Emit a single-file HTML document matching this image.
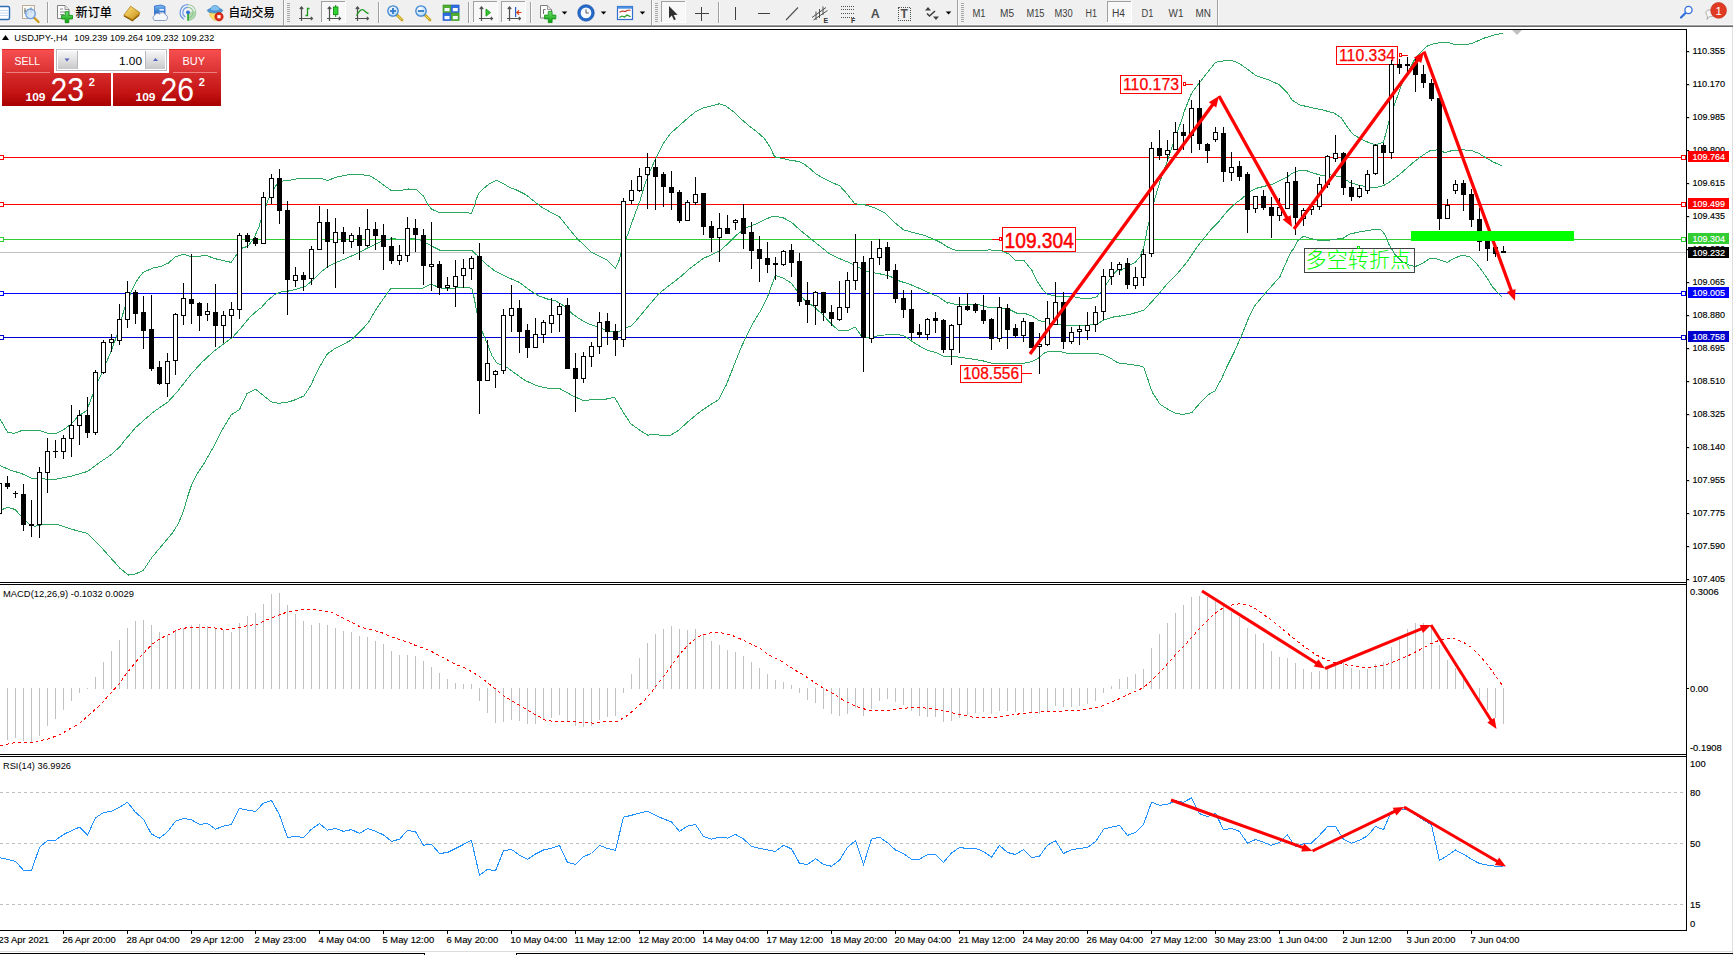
<!DOCTYPE html>
<html><head><meta charset="utf-8"><title>USDJPY-,H4</title>
<style>
html,body{margin:0;padding:0;background:#fff;}
body{width:1733px;height:955px;overflow:hidden;position:relative;font-family:"Liberation Sans","Noto Sans CJK SC",sans-serif;}
#tb{position:absolute;left:0;top:0;width:1733px;height:24px;background:#f0f0f0;}
#tbl1{position:absolute;left:0;top:24px;width:1733px;height:1px;background:#f8f8f8;}
#tbl2{position:absolute;left:0;top:25px;width:1733px;height:1px;background:#a0a0a0;}
#tbl3{position:absolute;left:0;top:26px;width:1733px;height:1px;background:#696969;}
svg{position:absolute;left:0;top:0;}
text{font-family:"Liberation Sans","Noto Sans CJK SC",sans-serif;}
.ax{font-size:9.4px;fill:#000;stroke:#000;stroke-width:0.15px;}
.tf{font-size:9.5px;fill:#333;}
.cn{font-family:"Liberation Sans","Noto Sans CJK SC",sans-serif;font-size:11px;fill:#000;}
</style></head><body>
<div id="tb"></div><div id="tbl1"></div><div id="tbl2"></div><div id="tbl3"></div>

<svg width="1733" height="955" viewBox="0 0 1733 955">
<defs>
<linearGradient id="gGreen" x1="0" y1="0" x2="0" y2="1"><stop offset="0" stop-color="#6fe26f"/><stop offset="1" stop-color="#0a9a0a"/></linearGradient>
<linearGradient id="gGold" x1="0" y1="0" x2="1" y2="1"><stop offset="0" stop-color="#ffe680"/><stop offset="1" stop-color="#c58a10"/></linearGradient>
<linearGradient id="gBlue" x1="0" y1="0" x2="0" y2="1"><stop offset="0" stop-color="#7db9f0"/><stop offset="1" stop-color="#1d5fc0"/></linearGradient>
<radialGradient id="gLens" cx="0.4" cy="0.35" r="0.7"><stop offset="0" stop-color="#ffffff"/><stop offset="1" stop-color="#a9d3f5"/></radialGradient>
<linearGradient id="gRed" x1="0" y1="0" x2="0" y2="1"><stop offset="0" stop-color="#f25a5a"/><stop offset="0.5" stop-color="#d42020"/><stop offset="1" stop-color="#b00000"/></linearGradient>
</defs>
<rect x="-6" y="6.5" width="15.5" height="13" rx="1.5" fill="#fff" stroke="#2f6fb7" stroke-width="1.4"/>
<rect x="0" y="10" width="8" height="1" fill="#c5d9f1"/>
<rect x="0" y="12.5" width="8" height="1" fill="#c5d9f1"/>
<rect x="0" y="15" width="8" height="1" fill="#c5d9f1"/>
<rect x="22.5" y="5.5" width="12" height="13" fill="#fbfbf6" stroke="#b8ad98" stroke-width="1"/>
<path d="M25 8 V14 M28 9 V15 M31 7.5 V13 M24 11 H26 M30 10 H32.5" stroke="#707070" stroke-width="1" fill="none"/>
<line x1="34" y1="17.5" x2="38.5" y2="22" stroke="#c99a1c" stroke-width="2.4" stroke-linecap="round"/>
<circle cx="30.5" cy="13.8" r="4.8" fill="#cfe3f7" fill-opacity="0.8" stroke="#6f9fe0" stroke-width="1.3"/>
<rect x="47" y="2" width="1" height="21" fill="#a0a0a0" shape-rendering="crispEdges"/>
<rect x="48" y="2" width="1" height="21" fill="#fbfbfb" shape-rendering="crispEdges"/>
<path d="M57.5 5.5 H65.0 L69.0 9.5 V18.5 H57.5 Z" fill="#fdfdfd" stroke="#808080" stroke-width="1"/>
<path d="M65.0 5.5 V9.5 H69.0" fill="#e8e8e8" stroke="#808080" stroke-width="0.8"/>
<path d="M60 9 H63 M60 12 H66 M60 14.5 H64" stroke="#909090" stroke-width="1"/>
<path d="M65.2 11.7 H68.8 V15.399999999999999 H72.5 V19.0 H68.8 V22.7 H65.2 V19.0 H61.5 V15.399999999999999 H65.2 Z" fill="url(#gGreen)" stroke="#0c8c0c" stroke-width="0.8"/>
<text x="75.5" y="16.6" style="font-family:'Liberation Sans','Noto Sans CJK SC',sans-serif;font-size:12px;font-weight:500;fill:#000" textLength="36.5" lengthAdjust="spacingAndGlyphs">新订单</text>
<path d="M123.8 15.2 L130.6 6.2 L139.8 12.6 L139 15.5 L132.4 21 Z" fill="url(#gGold)" stroke="#a8740c" stroke-width="0.7"/>
<path d="M123.8 15.2 L132.2 19 L139.6 12.8" fill="none" stroke="#c8901c" stroke-width="0.8"/>
<path d="M124 16 L132.4 20.6 L139 15" fill="none" stroke="#8a5a08" stroke-width="1.1"/>
<path d="M154.5 6 L161 5 L165 6.5 V15 H154.5 Z" fill="url(#gBlue)" stroke="#2a6ccc" stroke-width="0.8"/>
<rect x="159.5" y="9" width="4.5" height="1.6" fill="#e8f2ff"/><rect x="159.5" y="12" width="4.5" height="1.2" fill="#cfe2fb"/>
<path d="M155 20.5 H165.5 A3 3 0 0 0 165.5 14.8 A3.4 3.4 0 0 0 159.5 14 A3 3 0 0 0 154.6 15.4 A2.7 2.7 0 0 0 155 20.5 Z" fill="#f4f7fc" stroke="#8a9cc4" stroke-width="1"/>
<path d="M188 12.5 L188 20.6 A8 8 0 0 0 195.8 10.8 Z" fill="#7fc87f" fill-opacity="0.55"/>
<path d="M188 4.7 A7.8 7.8 0 0 1 188 20.3" fill="none" stroke="#9fcc9f" stroke-width="1.1"/>
<path d="M188 7.4 A5.1 5.1 0 0 1 188 17.6" fill="none" stroke="#8fc48f" stroke-width="1.1"/>
<path d="M188 4.7 A7.8 7.8 0 0 0 184 19.2" fill="none" stroke="#6f9ae6" stroke-width="1.3"/>
<path d="M188 7.4 A5.1 5.1 0 0 0 185.4 16.9" fill="none" stroke="#6f9ae6" stroke-width="1.2"/>
<rect x="187.3" y="12.5" width="1.5" height="8.2" fill="#1da01d"/><circle cx="188" cy="12.3" r="1.9" fill="#2f6fd8"/>
<path d="M209.5 11.5 L221 11.5 L220 15.5 L214.8 20.8 L210.2 16.5 Z" fill="#ffe169" stroke="#d8b030" stroke-width="0.6"/>
<ellipse cx="215" cy="10.6" rx="7.7" ry="2.5" fill="#4f98d4" stroke="#3578b8" stroke-width="0.6"/>
<path d="M210.3 10.2 C210.3 3.8 219.8 3.8 219.8 10.2 C217 11.3 213 11.3 210.3 10.2 Z" fill="#7fc0ee" stroke="#3d83c0" stroke-width="0.6"/>
<circle cx="219" cy="16.7" r="4.2" fill="#e02a18" stroke="#b01808" stroke-width="0.6"/><rect x="217.4" y="15.1" width="3.2" height="3.2" fill="#fff"/>
<text x="228.5" y="16.6" style="font-family:'Liberation Sans','Noto Sans CJK SC',sans-serif;font-size:12px;font-weight:500;fill:#000" textLength="46.5" lengthAdjust="spacingAndGlyphs">自动交易</text>
<rect x="283" y="0" width="1" height="25" fill="#a0a0a0" shape-rendering="crispEdges"/>
<rect x="284" y="0" width="1" height="25" fill="#fbfbfb" shape-rendering="crispEdges"/>
<rect x="287" y="3" width="3" height="1" fill="#a8a8a8" shape-rendering="crispEdges"/>
<rect x="287" y="5" width="3" height="1" fill="#a8a8a8" shape-rendering="crispEdges"/>
<rect x="287" y="7" width="3" height="1" fill="#a8a8a8" shape-rendering="crispEdges"/>
<rect x="287" y="9" width="3" height="1" fill="#a8a8a8" shape-rendering="crispEdges"/>
<rect x="287" y="11" width="3" height="1" fill="#a8a8a8" shape-rendering="crispEdges"/>
<rect x="287" y="13" width="3" height="1" fill="#a8a8a8" shape-rendering="crispEdges"/>
<rect x="287" y="15" width="3" height="1" fill="#a8a8a8" shape-rendering="crispEdges"/>
<rect x="287" y="17" width="3" height="1" fill="#a8a8a8" shape-rendering="crispEdges"/>
<rect x="287" y="19" width="3" height="1" fill="#a8a8a8" shape-rendering="crispEdges"/>
<rect x="287" y="21" width="3" height="1" fill="#a8a8a8" shape-rendering="crispEdges"/>
<g stroke="#505050" stroke-width="1.2" fill="none"><path d="M301.5 7 V21 M299 18.5 H312.5 M299.8 9 L301.5 7 L303.2 9 M310.8 16.8 L312.5 18.5 L310.8 20.2"/></g>
<path d="M309.5 8.5 H307.5 V15.5 H305.5" stroke="#1e9a1e" stroke-width="1.3" fill="none"/>
<rect x="321" y="1" width="25" height="22" fill="#f8f8f8" shape-rendering="crispEdges"/>
<rect x="321" y="1" width="25" height="1" fill="#a0a0a0" shape-rendering="crispEdges"/>
<rect x="321" y="1" width="1" height="22" fill="#a0a0a0" shape-rendering="crispEdges"/>
<rect x="345" y="1" width="1" height="22" fill="#ffffff" shape-rendering="crispEdges"/>
<rect x="321" y="22" width="25" height="1" fill="#ffffff" shape-rendering="crispEdges"/>
<g stroke="#505050" stroke-width="1.2" fill="none"><path d="M329.5 7 V21 M327 18.5 H340.5 M327.8 9 L329.5 7 L331.2 9 M338.8 16.8 L340.5 18.5 L338.8 20.2"/></g>
<rect x="335.2" y="5" width="1" height="12" fill="#0f7f0f"/><rect x="333.5" y="7" width="4.4" height="7.6" fill="#34d234" stroke="#0f8f0f" stroke-width="0.9"/>
<g stroke="#505050" stroke-width="1.2" fill="none"><path d="M357.5 7 V21 M355 18.5 H368.5 M355.8 9 L357.5 7 L359.2 9 M366.8 16.8 L368.5 18.5 L366.8 20.2"/></g>
<path d="M356.5 15.5 C359 11 361.5 8.5 363.5 10 C365.5 11.5 366.5 13 368.5 13.5" stroke="#1e9a1e" stroke-width="1.3" fill="none"/>
<rect x="378" y="2" width="1" height="21" fill="#a0a0a0" shape-rendering="crispEdges"/>
<rect x="379" y="2" width="1" height="21" fill="#fbfbfb" shape-rendering="crispEdges"/>
<line x1="397" y1="15" x2="402" y2="20" stroke="#c9a21c" stroke-width="2.8" stroke-linecap="round"/>
<line x1="397.5" y1="15.5" x2="401.6" y2="19.6" stroke="#f2da6a" stroke-width="1"/>
<circle cx="393" cy="11" r="5.2" fill="url(#gLens)" stroke="#3f86d0" stroke-width="1.3"/>
<rect x="390" y="10.1" width="6" height="1.8" fill="#2f78c8"/>
<rect x="392.1" y="8" width="1.8" height="6" fill="#2f78c8"/>
<line x1="425" y1="15" x2="430" y2="20" stroke="#c9a21c" stroke-width="2.8" stroke-linecap="round"/>
<line x1="425.5" y1="15.5" x2="429.6" y2="19.6" stroke="#f2da6a" stroke-width="1"/>
<circle cx="421" cy="11" r="5.2" fill="url(#gLens)" stroke="#3f86d0" stroke-width="1.3"/>
<rect x="418" y="10.1" width="6" height="1.8" fill="#2f78c8"/>
<rect x="443" y="5" width="7.8" height="7.5" fill="#4fae2f" stroke="#2f8f1f" stroke-width="0.6"/>
<rect x="444.5" y="8" width="5" height="3.2" fill="#f4f8ff"/>
<rect x="451.3" y="5" width="7.8" height="7.5" fill="#2f6fe0" stroke="#1d4fc0" stroke-width="0.6"/>
<rect x="452.8" y="8" width="5" height="3.2" fill="#f4f8ff"/>
<rect x="443" y="13" width="7.8" height="7.5" fill="#2f6fe0" stroke="#1d4fc0" stroke-width="0.6"/>
<rect x="444.5" y="16" width="5" height="3.2" fill="#f4f8ff"/>
<rect x="451.3" y="13" width="7.8" height="7.5" fill="#4fae2f" stroke="#2f8f1f" stroke-width="0.6"/>
<rect x="452.8" y="16" width="5" height="3.2" fill="#f4f8ff"/>
<rect x="468" y="2" width="1" height="21" fill="#a0a0a0" shape-rendering="crispEdges"/>
<rect x="469" y="2" width="1" height="21" fill="#fbfbfb" shape-rendering="crispEdges"/>
<rect x="473" y="1" width="25" height="22" fill="#f8f8f8" shape-rendering="crispEdges"/>
<rect x="473" y="1" width="25" height="1" fill="#a0a0a0" shape-rendering="crispEdges"/>
<rect x="473" y="1" width="1" height="22" fill="#a0a0a0" shape-rendering="crispEdges"/>
<rect x="497" y="1" width="1" height="22" fill="#ffffff" shape-rendering="crispEdges"/>
<rect x="473" y="22" width="25" height="1" fill="#ffffff" shape-rendering="crispEdges"/>
<g stroke="#505050" stroke-width="1.2" fill="none"><path d="M481.5 7 V21 M479 18.5 H492.5 M479.8 9 L481.5 7 L483.2 9 M490.8 16.8 L492.5 18.5 L490.8 20.2"/></g>
<polygon points="486,9 490.5,12.6 486,16.2" fill="#34c834" stroke="#0f8f0f" stroke-width="0.8"/>
<rect x="501" y="1" width="25" height="22" fill="#f8f8f8" shape-rendering="crispEdges"/>
<rect x="501" y="1" width="25" height="1" fill="#a0a0a0" shape-rendering="crispEdges"/>
<rect x="501" y="1" width="1" height="22" fill="#a0a0a0" shape-rendering="crispEdges"/>
<rect x="525" y="1" width="1" height="22" fill="#ffffff" shape-rendering="crispEdges"/>
<rect x="501" y="22" width="25" height="1" fill="#ffffff" shape-rendering="crispEdges"/>
<g stroke="#505050" stroke-width="1.2" fill="none"><path d="M509.5 7 V21 M507 18.5 H520.5 M507.8 9 L509.5 7 L511.2 9 M518.8 16.8 L520.5 18.5 L518.8 20.2"/></g>
<rect x="515" y="7" width="1.2" height="10" fill="#1f5fc8"/><path d="M521.5 12.5 H517 M519 10.3 L516.8 12.5 L519 14.7" stroke="#d83a10" stroke-width="1.2" fill="none"/>
<rect x="530" y="2" width="1" height="21" fill="#a0a0a0" shape-rendering="crispEdges"/>
<rect x="531" y="2" width="1" height="21" fill="#fbfbfb" shape-rendering="crispEdges"/>
<path d="M540.5 5.5 H547.5 L551.5 9.5 V18.0 H540.5 Z" fill="#fdfdfd" stroke="#808080" stroke-width="1"/>
<path d="M547.5 5.5 V9.5 H551.5" fill="#e8e8e8" stroke="#808080" stroke-width="0.8"/>
<path d="M543.5 9.5 V14 M543.5 9.5 H545.5" stroke="#707070" stroke-width="1" fill="none"/>
<path d="M548.3000000000001 11.4 H552.1 V15.1 H555.8000000000001 V18.9 H552.1 V22.6 H548.3000000000001 V18.9 H544.6 V15.1 H548.3000000000001 Z" fill="url(#gGreen)" stroke="#0c8c0c" stroke-width="0.8"/>
<polygon points="561.8,11.5 567.3,11.5 564.55,14.5" fill="#000"/>
<circle cx="586" cy="12.9" r="6.8" fill="#f6f9fd" stroke="#2468c8" stroke-width="2.9"/>
<circle cx="586" cy="12.9" r="8.3" fill="none" stroke="#1a4fa8" stroke-width="0.6"/>
<path d="M586 9.3 V13 H588.8" stroke="#505860" stroke-width="1" fill="none"/>
<polygon points="600.8,11.5 606.3,11.5 603.55,14.5" fill="#000"/>
<rect x="617.5" y="6.5" width="15" height="13" fill="#fdfdff" stroke="#2f6fd0" stroke-width="1.2"/><rect x="617.5" y="6.5" width="15" height="2.2" fill="#4f8fe0"/>
<path d="M619.5 12.3 L622.5 11 L625 11.6 L627.5 10.2 L630.5 10.2" stroke="#c03010" stroke-width="1.1" fill="none"/>
<path d="M619.5 17.5 L622 16 L624.5 17 L627 15 L630.5 16.8" stroke="#1e9a1e" stroke-width="1.1" fill="none"/>
<polygon points="639.7,11.5 645.2,11.5 642.45,14.5" fill="#000"/>
<rect x="651" y="0" width="1" height="25" fill="#a0a0a0" shape-rendering="crispEdges"/>
<rect x="652" y="0" width="1" height="25" fill="#fbfbfb" shape-rendering="crispEdges"/>
<rect x="655" y="3" width="3" height="1" fill="#a8a8a8" shape-rendering="crispEdges"/>
<rect x="655" y="5" width="3" height="1" fill="#a8a8a8" shape-rendering="crispEdges"/>
<rect x="655" y="7" width="3" height="1" fill="#a8a8a8" shape-rendering="crispEdges"/>
<rect x="655" y="9" width="3" height="1" fill="#a8a8a8" shape-rendering="crispEdges"/>
<rect x="655" y="11" width="3" height="1" fill="#a8a8a8" shape-rendering="crispEdges"/>
<rect x="655" y="13" width="3" height="1" fill="#a8a8a8" shape-rendering="crispEdges"/>
<rect x="655" y="15" width="3" height="1" fill="#a8a8a8" shape-rendering="crispEdges"/>
<rect x="655" y="17" width="3" height="1" fill="#a8a8a8" shape-rendering="crispEdges"/>
<rect x="655" y="19" width="3" height="1" fill="#a8a8a8" shape-rendering="crispEdges"/>
<rect x="655" y="21" width="3" height="1" fill="#a8a8a8" shape-rendering="crispEdges"/>
<rect x="661" y="1" width="25" height="22" fill="#f8f8f8" shape-rendering="crispEdges"/>
<rect x="661" y="1" width="25" height="1" fill="#a0a0a0" shape-rendering="crispEdges"/>
<rect x="661" y="1" width="1" height="22" fill="#a0a0a0" shape-rendering="crispEdges"/>
<rect x="685" y="1" width="1" height="22" fill="#ffffff" shape-rendering="crispEdges"/>
<rect x="661" y="22" width="25" height="1" fill="#ffffff" shape-rendering="crispEdges"/>
<path d="M669 6 L669 18.2 L671.8 15.6 L674 20.2 L675.8 19.3 L673.7 14.9 L677.6 14.7 Z" fill="#303030"/>
<path d="M701.5 6.5 V20.5 M694.5 13.5 H708.5" stroke="#404040" stroke-width="1" fill="none" shape-rendering="crispEdges"/>
<rect x="718" y="2" width="1" height="21" fill="#a0a0a0" shape-rendering="crispEdges"/>
<rect x="719" y="2" width="1" height="21" fill="#fbfbfb" shape-rendering="crispEdges"/>
<rect x="735" y="7" width="1" height="13" fill="#404040" shape-rendering="crispEdges"/>
<rect x="758" y="13" width="12" height="1" fill="#404040" shape-rendering="crispEdges"/>
<line x1="786" y1="20" x2="798" y2="7.5" stroke="#505050" stroke-width="1.1"/>
<path d="M812 17.5 L826 7.5 M813.5 20 L827.5 10.5 M816 11.5 L816 20 M819.5 9 L819.5 18 M823 6.5 L823 15" stroke="#505050" stroke-width="1" fill="none"/>
<text x="823.5" y="22.5" style="font-size:7px;font-weight:bold;fill:#303030">E</text>
<line x1="840.5" y1="6.5" x2="855" y2="6.5" stroke="#505050" stroke-width="1" stroke-dasharray="1,1" shape-rendering="crispEdges"/>
<line x1="840.5" y1="9.5" x2="855" y2="9.5" stroke="#505050" stroke-width="1" stroke-dasharray="1,1" shape-rendering="crispEdges"/>
<line x1="840.5" y1="13.5" x2="855" y2="13.5" stroke="#505050" stroke-width="1" stroke-dasharray="1,1" shape-rendering="crispEdges"/>
<line x1="840.5" y1="17.5" x2="855" y2="17.5" stroke="#505050" stroke-width="1" stroke-dasharray="1,1" shape-rendering="crispEdges"/>
<text x="851" y="22.5" style="font-size:7px;font-weight:bold;fill:#303030">F</text>
<text x="870.8" y="18" style="font-size:12.5px;font-weight:bold;fill:#505050">A</text>
<rect x="898.5" y="7.5" width="12" height="12.5" fill="none" stroke="#505050" stroke-width="1" stroke-dasharray="1,1" shape-rendering="crispEdges"/>
<text x="900.5" y="18.3" style="font-size:12px;font-weight:bold;fill:#505050">T</text>
<path d="M925 10.5 L928 7 L931 10.5 Z M933 16.5 L936 20 L939 16.5 Z" fill="#404040"/>
<path d="M927 13.5 L929.5 16 L935 11" stroke="#404040" stroke-width="1.6" fill="none"/>
<polygon points="945.8,11.5 951.3,11.5 948.55,14.5" fill="#000"/>
<rect x="957" y="0" width="1" height="25" fill="#a0a0a0" shape-rendering="crispEdges"/>
<rect x="958" y="0" width="1" height="25" fill="#fbfbfb" shape-rendering="crispEdges"/>
<rect x="961" y="3" width="3" height="1" fill="#a8a8a8" shape-rendering="crispEdges"/>
<rect x="961" y="5" width="3" height="1" fill="#a8a8a8" shape-rendering="crispEdges"/>
<rect x="961" y="7" width="3" height="1" fill="#a8a8a8" shape-rendering="crispEdges"/>
<rect x="961" y="9" width="3" height="1" fill="#a8a8a8" shape-rendering="crispEdges"/>
<rect x="961" y="11" width="3" height="1" fill="#a8a8a8" shape-rendering="crispEdges"/>
<rect x="961" y="13" width="3" height="1" fill="#a8a8a8" shape-rendering="crispEdges"/>
<rect x="961" y="15" width="3" height="1" fill="#a8a8a8" shape-rendering="crispEdges"/>
<rect x="961" y="17" width="3" height="1" fill="#a8a8a8" shape-rendering="crispEdges"/>
<rect x="961" y="19" width="3" height="1" fill="#a8a8a8" shape-rendering="crispEdges"/>
<rect x="961" y="21" width="3" height="1" fill="#a8a8a8" shape-rendering="crispEdges"/>
<rect x="1107" y="1" width="25" height="22" fill="#f8f8f8" shape-rendering="crispEdges"/>
<rect x="1107" y="1" width="25" height="1" fill="#a0a0a0" shape-rendering="crispEdges"/>
<rect x="1107" y="1" width="1" height="22" fill="#a0a0a0" shape-rendering="crispEdges"/>
<rect x="1131" y="1" width="1" height="22" fill="#ffffff" shape-rendering="crispEdges"/>
<rect x="1107" y="22" width="25" height="1" fill="#ffffff" shape-rendering="crispEdges"/>
<text x="972.4" y="16.8" style="font-size:10px;fill:#404040" textLength="13.1" lengthAdjust="spacingAndGlyphs">M1</text>
<text x="1000" y="16.8" style="font-size:10px;fill:#404040" textLength="14.0" lengthAdjust="spacingAndGlyphs">M5</text>
<text x="1026.5" y="16.8" style="font-size:10px;fill:#404040" textLength="18.0" lengthAdjust="spacingAndGlyphs">M15</text>
<text x="1054.5" y="16.8" style="font-size:10px;fill:#404040" textLength="18.1" lengthAdjust="spacingAndGlyphs">M30</text>
<text x="1085.5" y="16.8" style="font-size:10px;fill:#404040" textLength="11.5" lengthAdjust="spacingAndGlyphs">H1</text>
<text x="1112" y="16.8" style="font-size:10px;fill:#404040" textLength="13.0" lengthAdjust="spacingAndGlyphs">H4</text>
<text x="1141.5" y="16.8" style="font-size:10px;fill:#404040" textLength="11.9" lengthAdjust="spacingAndGlyphs">D1</text>
<text x="1168.6" y="16.8" style="font-size:10px;fill:#404040" textLength="14.9" lengthAdjust="spacingAndGlyphs">W1</text>
<text x="1195.6" y="16.8" style="font-size:10px;fill:#404040" textLength="15.4" lengthAdjust="spacingAndGlyphs">MN</text>
<rect x="1217" y="0" width="1" height="25" fill="#a0a0a0" shape-rendering="crispEdges"/>
<rect x="1218" y="0" width="1" height="25" fill="#fbfbfb" shape-rendering="crispEdges"/>
<line x1="1681" y1="17.5" x2="1685.5" y2="13" stroke="#2f6fe0" stroke-width="2.2" stroke-linecap="round"/>
<circle cx="1688.5" cy="10" r="3.6" fill="#fdfdff" stroke="#2f6fe0" stroke-width="1.3"/>
<path d="M1706 12 C1706 9 1716 9 1716 13 C1716 16.5 1711 16.8 1709.5 16.6 L1707 19.5 L1707.5 16 C1706 15 1706 13.5 1706 12 Z" fill="#f4f4f4" stroke="#a8a8a8" stroke-width="0.9"/>
<circle cx="1718.6" cy="10.4" r="7.9" fill="#e03a22"/><circle cx="1718.6" cy="10.4" r="7.9" fill="none" stroke="#c02a14" stroke-width="0.6"/>
<text x="1715.6" y="14.6" style="font-size:11.5px;fill:#fff">1</text>
<g shape-rendering="crispEdges" fill="#000">
<rect x="0" y="29" width="1687" height="1"/>
<rect x="1686" y="29" width="1" height="902"/>
<rect x="0" y="582" width="1687" height="1"/>
<rect x="0" y="584" width="1687" height="1"/>
<rect x="0" y="754" width="1687" height="1"/>
<rect x="0" y="756" width="1687" height="1"/>
<rect x="0" y="930" width="1687" height="1"/>
</g>
<rect x="1732" y="27" width="1" height="928" fill="#dedede" shape-rendering="crispEdges"/>
<rect x="0" y="951" width="1733" height="1" fill="#dcdcdc" shape-rendering="crispEdges"/>
<g shape-rendering="crispEdges" fill="#000"><rect x="0" y="953" width="425" height="1"/><rect x="424" y="953" width="1" height="2"/><rect x="516" y="953" width="1217" height="1"/><rect x="516" y="953" width="1" height="2"/></g>
<g class="ax">
<rect x="1687" y="51" width="2" height="1" fill="#000" shape-rendering="crispEdges"/>
<text x="1692.5" y="54.4" textLength="32.5" lengthAdjust="spacingAndGlyphs">110.355</text>
<rect x="1687" y="84" width="2" height="1" fill="#000" shape-rendering="crispEdges"/>
<text x="1692.5" y="87.4" textLength="32.5" lengthAdjust="spacingAndGlyphs">110.170</text>
<rect x="1687" y="117" width="2" height="1" fill="#000" shape-rendering="crispEdges"/>
<text x="1692.5" y="120.4" textLength="32.5" lengthAdjust="spacingAndGlyphs">109.985</text>
<rect x="1687" y="150" width="2" height="1" fill="#000" shape-rendering="crispEdges"/>
<text x="1692.5" y="153.4" textLength="32.5" lengthAdjust="spacingAndGlyphs">109.800</text>
<rect x="1687" y="183" width="2" height="1" fill="#000" shape-rendering="crispEdges"/>
<text x="1692.5" y="186.4" textLength="32.5" lengthAdjust="spacingAndGlyphs">109.615</text>
<rect x="1687" y="216" width="2" height="1" fill="#000" shape-rendering="crispEdges"/>
<text x="1692.5" y="219.4" textLength="32.5" lengthAdjust="spacingAndGlyphs">109.435</text>
<rect x="1687" y="249" width="2" height="1" fill="#000" shape-rendering="crispEdges"/>
<text x="1692.5" y="252.4" textLength="32.5" lengthAdjust="spacingAndGlyphs">109.250</text>
<rect x="1687" y="282" width="2" height="1" fill="#000" shape-rendering="crispEdges"/>
<text x="1692.5" y="285.4" textLength="32.5" lengthAdjust="spacingAndGlyphs">109.065</text>
<rect x="1687" y="315" width="2" height="1" fill="#000" shape-rendering="crispEdges"/>
<text x="1692.5" y="318.4" textLength="32.5" lengthAdjust="spacingAndGlyphs">108.880</text>
<rect x="1687" y="348" width="2" height="1" fill="#000" shape-rendering="crispEdges"/>
<text x="1692.5" y="351.4" textLength="32.5" lengthAdjust="spacingAndGlyphs">108.695</text>
<rect x="1687" y="381" width="2" height="1" fill="#000" shape-rendering="crispEdges"/>
<text x="1692.5" y="384.4" textLength="32.5" lengthAdjust="spacingAndGlyphs">108.510</text>
<rect x="1687" y="414" width="2" height="1" fill="#000" shape-rendering="crispEdges"/>
<text x="1692.5" y="417.4" textLength="32.5" lengthAdjust="spacingAndGlyphs">108.325</text>
<rect x="1687" y="447" width="2" height="1" fill="#000" shape-rendering="crispEdges"/>
<text x="1692.5" y="450.4" textLength="32.5" lengthAdjust="spacingAndGlyphs">108.140</text>
<rect x="1687" y="480" width="2" height="1" fill="#000" shape-rendering="crispEdges"/>
<text x="1692.5" y="483.4" textLength="32.5" lengthAdjust="spacingAndGlyphs">107.955</text>
<rect x="1687" y="513" width="2" height="1" fill="#000" shape-rendering="crispEdges"/>
<text x="1692.5" y="516.4" textLength="32.5" lengthAdjust="spacingAndGlyphs">107.775</text>
<rect x="1687" y="546" width="2" height="1" fill="#000" shape-rendering="crispEdges"/>
<text x="1692.5" y="549.4" textLength="32.5" lengthAdjust="spacingAndGlyphs">107.590</text>
<rect x="1687" y="579" width="2" height="1" fill="#000" shape-rendering="crispEdges"/>
<text x="1692.5" y="582.4" textLength="32.5" lengthAdjust="spacingAndGlyphs">107.405</text>
</g>
<rect x="0" y="252" width="1686" height="1" fill="#c0c0c0" shape-rendering="crispEdges"/>
<rect x="0" y="239" width="1686" height="1" fill="#32cd32" shape-rendering="crispEdges"/>
<rect x="0" y="157" width="1686" height="1" fill="#ff0000" shape-rendering="crispEdges"/>
<rect x="0" y="204" width="1686" height="1" fill="#ff0000" shape-rendering="crispEdges"/>
<rect x="0" y="293" width="1686" height="1" fill="#0000ff" shape-rendering="crispEdges"/>
<rect x="0" y="337" width="1686" height="1" fill="#0000cd" shape-rendering="crispEdges"/>
<rect x="1120.5" y="75.5" width="61" height="18" fill="#fff" stroke="#ff0000" stroke-width="1" shape-rendering="crispEdges"/>
<text x="1123" y="90" style="font-size:16px;fill:#ff0000;stroke:#ff0000;stroke-width:0.25px" textLength="56" lengthAdjust="spacingAndGlyphs">110.173</text>
<g shape-rendering="crispEdges"><rect x="1183.5" y="82.5" width="2" height="3" fill="#fff" stroke="#f00"/><rect x="1186" y="84" width="7" height="1" fill="#f00"/></g>
<rect x="1336.5" y="46.5" width="61" height="18" fill="#fff" stroke="#ff0000" stroke-width="1" shape-rendering="crispEdges"/>
<text x="1339" y="61" style="font-size:16px;fill:#ff0000;stroke:#ff0000;stroke-width:0.25px" textLength="56" lengthAdjust="spacingAndGlyphs">110.334</text>
<g shape-rendering="crispEdges"><rect x="1399.5" y="53.5" width="2" height="3" fill="#fff" stroke="#f00"/><rect x="1402" y="55" width="6" height="1" fill="#f00"/></g>
<rect x="1002.5" y="227.5" width="73" height="24" fill="#fff" stroke="#ff0000" stroke-width="1" shape-rendering="crispEdges"/>
<text x="1004.6" y="248" style="font-size:22.2px;fill:#ff0000;stroke:#ff0000;stroke-width:0.5px" textLength="69.2" lengthAdjust="spacingAndGlyphs">109.304</text>
<g shape-rendering="crispEdges"><rect x="992" y="239" width="8" height="1" fill="#f00"/><rect x="999.5" y="237.5" width="2" height="3" fill="#fff" stroke="#f00"/></g>
<rect x="960.5" y="365.5" width="61" height="17" fill="#fff" stroke="#ff0000" stroke-width="1" shape-rendering="crispEdges"/>
<text x="963" y="379" style="font-size:16px;fill:#ff0000;stroke:#ff0000;stroke-width:0.25px" textLength="56" lengthAdjust="spacingAndGlyphs">108.556</text>
<g shape-rendering="crispEdges"><rect x="1022" y="373" width="10" height="1" fill="#f00"/></g>
<polyline points="0.0,419.0 7.6,432.4 14.3,433.3 22.9,430.1 40.0,430.5 47.6,433.3 57.1,433.0 63.8,429.5 71.4,423.8 78.1,416.2 86.7,410.5 91.8,397.1 97.5,381.9 102.3,372.4 107.0,361.0 111.8,349.5 116.6,336.2 121.3,319.0 126.1,303.8 131.8,290.5 137.5,279.5 143.2,272.3 152.8,268.1 160.4,266.6 168.0,263.3 175.6,256.7 183.2,254.2 191.8,257.0 198.5,256.3 206.1,255.3 214.7,258.6 223.2,260.5 231.2,262.4 238.5,251.9 242.3,248.1 248.0,246.2 253.7,238.6 259.4,226.2 260.0,223.3 263.8,212.9 268.6,198.6 274.3,188.1 279.0,181.4 288.6,180.5 298.1,178.6 309.5,178.2 321.0,178.2 327.6,180.5 336.2,177.2 343.8,175.7 351.4,174.2 361.0,174.8 368.6,175.3 376.2,179.5 383.8,185.2 391.4,190.6 401.0,190.4 408.6,189.0 416.2,189.4 420.0,193.2 423.8,196.3 427.6,204.0 431.4,209.0 439.0,212.6 451.7,212.6 468.2,212.9 471.4,213.2 474.6,205.2 476.2,199.7 477.5,196.1 479.4,192.4 483.6,188.5 488.8,184.3 492.5,182.2 496.1,180.4 499.8,181.7 504.5,184.3 509.7,187.4 514.5,189.3 516.5,190.0 525.4,194.4 534.3,201.4 540.6,206.5 549.5,211.6 559.6,217.0 568.5,228.1 577.4,238.9 585.0,245.9 591.4,252.2 600.3,256.6 606.6,259.6 615.5,268.5 619.3,259.8 623.1,245.9 628.2,233.2 634.5,215.4 640.0,200.8 645.0,183.8 650.7,169.5 656.4,157.1 663.0,143.8 670.7,133.3 680.2,124.8 687.8,118.1 695.4,111.8 703.0,108.0 710.7,106.1 719.2,103.8 725.9,106.1 733.5,111.8 741.1,119.0 748.8,125.7 756.4,131.4 764.0,138.1 770.0,147.1 774.6,156.8 780.1,158.0 785.9,159.1 790.9,160.4 798.5,161.4 803.5,163.5 810.2,168.9 816.1,173.9 822.0,177.5 828.7,180.9 834.5,183.6 839.6,185.7 845.4,192.0 850.4,198.2 854.6,203.7 864.7,204.9 865.5,205.0 875.0,207.9 884.6,212.6 894.1,222.1 903.6,229.8 913.1,232.6 924.6,235.5 934.1,239.3 941.7,243.1 948.0,247.4 955.6,250.2 967.0,250.6 978.5,250.6 989.9,249.9 1001.3,250.8 1009.0,254.0 1015.6,260.3 1024.2,260.7 1031.8,270.2 1037.5,281.7 1043.2,290.2 1047.0,294.0 1054.7,296.0 1062.3,296.9 1071.8,296.5 1081.3,298.2 1089.0,298.8 1096.6,296.9 1102.3,290.2 1108.0,281.7 1113.7,274.0 1119.4,268.3 1120.0,271.0 1127.6,266.2 1135.2,262.4 1140.0,256.7 1143.8,247.1 1145.7,237.6 1147.0,230.0 1148.6,223.3 1154.3,200.5 1160.0,181.4 1167.6,160.5 1175.2,137.6 1182.9,116.7 1183.8,112.5 1191.4,93.5 1199.0,83.3 1207.9,71.9 1215.5,62.4 1221.9,61.1 1230.8,60.1 1238.4,63.0 1246.0,68.1 1256.1,75.7 1267.6,79.5 1279.0,84.6 1287.9,93.5 1292.0,100.0 1299.6,104.8 1311.0,107.6 1322.5,109.9 1333.9,113.0 1341.5,118.1 1347.2,126.7 1353.0,134.3 1360.6,139.0 1368.2,142.3 1375.8,144.8 1383.4,142.3 1387.2,128.6 1391.0,113.3 1394.1,105.4 1396.8,98.1 1400.9,86.5 1407.2,74.0 1414.6,59.3 1422.4,50.4 1427.1,46.2 1434.5,43.4 1442.8,42.4 1448.1,42.4 1454.3,44.5 1465.9,44.5 1472.1,43.4 1484.7,37.9 1495.2,34.7 1503.0,33.1" fill="none" stroke="#2aa860" stroke-width="1" shape-rendering="crispEdges" />
<polyline points="0.0,465.7 11.4,470.5 21.0,473.3 31.4,478.1 39.4,478.1 47.6,479.4 57.1,479.0 71.4,476.2 87.6,471.4 99.0,462.9 110.5,455.2 120.0,446.7 124.2,441.0 135.6,427.6 152.8,412.4 168.0,401.9 177.5,391.4 190.9,374.3 202.3,361.9 213.7,351.4 225.1,342.9 232.8,337.1 240.4,328.6 249.9,317.1 259.4,308.6 260.0,309.0 267.6,300.5 274.3,294.8 281.0,291.9 288.6,291.0 298.1,288.7 305.7,286.2 313.3,279.5 321.0,271.9 328.6,266.2 336.2,262.4 345.7,258.6 355.2,254.4 364.8,249.4 374.3,244.7 381.9,240.9 391.4,238.6 401.0,239.5 408.6,238.6 418.1,239.1 425.7,242.8 432.0,246.3 439.6,250.1 451.0,250.5 462.5,250.5 472.0,250.7 477.7,255.8 485.3,263.4 494.9,271.0 506.3,276.8 519.6,282.5 531.0,291.0 538.7,295.8 546.3,298.7 555.8,301.0 565.3,306.7 573.0,314.3 580.6,319.6 590.1,324.4 597.7,326.9 604.0,329.5 611.6,332.0 619.2,331.4 625.9,327.6 631.6,325.7 638.3,318.1 647.8,306.7 658.3,294.3 668.8,285.7 680.2,277.1 689.7,268.6 697.3,262.9 703.0,258.5 712.6,254.3 720.2,250.5 727.8,243.8 737.3,234.3 746.9,227.6 756.4,223.8 765.9,219.0 773.5,216.2 776.0,216.4 783.6,218.0 791.2,222.1 800.8,230.7 810.3,238.3 819.8,246.0 829.3,253.6 838.9,258.3 850.3,263.1 859.8,267.9 867.4,271.7 878.9,273.6 890.3,276.4 899.8,281.2 909.3,284.0 918.9,288.2 928.4,292.6 937.9,296.4 947.4,303.1 948.0,302.6 955.6,304.5 967.0,304.1 978.5,304.5 989.9,307.8 1001.3,307.8 1009.0,309.3 1016.6,313.1 1024.2,313.1 1031.8,316.0 1039.4,320.7 1047.0,322.6 1054.7,324.0 1066.1,325.5 1081.3,325.5 1089.0,325.1 1096.6,324.5 1104.2,319.8 1111.8,317.3 1119.4,316.0 1120.0,316.3 1129.5,314.4 1137.1,312.3 1143.8,310.0 1148.6,305.2 1158.1,294.8 1167.6,283.3 1177.1,273.8 1186.7,262.4 1196.2,248.1 1203.8,238.6 1211.4,229.0 1219.0,221.4 1226.7,211.9 1234.3,204.3 1241.9,198.6 1249.5,191.9 1257.1,188.1 1264.8,186.2 1272.4,184.3 1280.0,180.5 1287.6,176.7 1292.0,173.3 1299.6,170.5 1305.3,170.1 1311.0,172.4 1320.6,175.2 1330.1,174.9 1341.5,177.1 1349.1,181.9 1358.7,185.1 1368.2,187.2 1375.8,187.6 1383.4,185.7 1391.0,181.0 1398.7,175.2 1406.3,168.6 1413.9,161.9 1421.5,156.2 1427.2,152.4 1430.0,150.7 1437.5,149.8 1445.1,152.6 1452.6,150.4 1462.0,149.8 1471.5,150.4 1479.0,153.6 1486.5,158.3 1494.1,162.4 1502.6,166.2" fill="none" stroke="#2aa860" stroke-width="1" shape-rendering="crispEdges" />
<polyline points="0.0,510.5 7.6,507.2 15.2,509.5 21.0,516.2 28.6,523.8 34.3,526.3 45.7,524.2 57.1,524.4 72.4,529.5 87.6,533.3 99.0,544.8 114.3,561.9 120.0,568.3 128.5,575.1 134.8,574.2 143.3,570.4 151.7,557.7 162.3,545.0 172.9,532.3 178.2,523.9 183.5,511.2 187.7,496.4 190.9,486.8 196.2,475.2 204.6,462.5 213.1,447.7 221.6,430.8 231.1,414.9 239.5,409.6 246.9,393.8 255.4,389.1 263.9,395.9 271.3,401.8 278.7,403.3 289.3,401.8 296.3,399.4 303.8,396.0 310.7,385.6 317.6,370.6 323.4,360.3 327.4,353.9 333.8,349.3 341.8,345.1 351.1,340.1 359.1,332.6 368.3,322.8 375.2,310.7 382.2,300.4 387.9,292.3 389.6,290.0 391.4,288.1 401.0,289.0 412.4,288.1 421.9,288.7 430.5,284.3 432.0,284.4 439.6,287.8 447.2,289.1 456.8,287.8 466.3,287.2 472.0,288.6 474.3,298.7 476.8,312.0 481.9,331.0 487.2,343.4 492.0,355.8 496.8,363.0 508.2,368.2 515.8,373.9 525.3,380.6 537.9,386.1 548.3,388.2 559.8,388.6 573.3,396.1 582.6,400.2 596.1,399.8 604.0,399.6 614.5,397.1 622.1,410.5 630.7,423.8 640.2,430.5 647.8,435.2 653.5,434.3 661.1,435.2 670.7,435.2 678.3,430.5 687.8,421.9 699.2,412.4 708.8,405.7 718.3,400.0 725.9,385.7 733.5,366.7 741.1,347.6 745.9,337.1 752.6,323.8 760.2,311.4 767.8,296.2 772.6,282.9 775.4,275.2 776.0,275.5 783.6,278.3 791.2,283.1 797.0,290.7 804.6,300.2 814.1,306.9 823.6,315.5 831.2,324.0 838.9,330.7 847.4,330.7 855.0,326.9 861.7,336.4 869.3,338.0 878.9,335.5 890.3,334.5 897.9,334.5 905.5,336.4 913.1,342.1 920.8,346.9 928.4,350.7 936.0,352.6 943.6,356.4 948.0,356.0 957.5,356.9 970.9,358.8 982.3,360.7 991.8,363.2 1003.2,363.2 1014.7,363.2 1024.2,363.2 1031.8,361.7 1037.5,358.8 1045.1,352.5 1050.9,351.2 1058.5,351.2 1066.1,353.1 1081.3,353.5 1092.8,353.1 1102.3,354.4 1109.9,357.9 1117.5,362.6 1120.0,363.3 1129.5,364.3 1139.0,365.8 1143.8,367.1 1147.6,378.6 1148.3,380.0 1150.4,387.8 1153.0,393.5 1157.1,399.7 1159.7,403.9 1164.9,407.5 1171.2,411.2 1176.4,413.5 1182.6,414.5 1188.3,413.5 1191.9,412.5 1195.6,408.0 1201.3,401.8 1208.0,394.8 1214.8,391.2 1217.9,385.2 1221.0,380.0 1226.7,367.1 1234.3,351.9 1241.9,334.8 1249.5,315.7 1255.2,305.2 1264.8,293.8 1272.4,285.2 1280.0,276.7 1285.7,263.3 1291.4,251.0 1292.0,251.4 1297.7,241.0 1303.4,236.2 1309.1,238.1 1316.8,240.0 1330.1,240.0 1343.4,238.1 1349.1,234.3 1358.7,232.0 1368.2,230.5 1375.8,229.0 1381.5,230.1 1385.3,235.2 1389.1,244.8 1394.9,254.3 1402.5,261.9 1410.1,265.7 1415.8,266.3 1423.4,262.9 1430.0,258.2 1437.5,259.1 1447.0,262.5 1454.5,258.2 1462.0,255.3 1469.6,256.7 1475.2,261.9 1480.9,269.5 1486.5,277.0 1492.2,286.4 1497.9,293.0 1502.6,297.4" fill="none" stroke="#2aa860" stroke-width="1" shape-rendering="crispEdges" />
<g shape-rendering="crispEdges">
<rect x="-1" y="483" width="1" height="31" fill="#000"/>
<rect x="-3" y="483" width="5" height="31" fill="#000"/>
<rect x="-2" y="484" width="3" height="29" fill="#fff"/>
<rect x="7" y="476" width="1" height="13" fill="#000"/>
<rect x="5" y="483" width="5" height="4" fill="#000"/>
<rect x="15" y="491" width="1" height="7" fill="#000"/>
<rect x="13" y="493" width="5" height="1" fill="#000"/>
<rect x="23" y="484" width="1" height="47" fill="#000"/>
<rect x="21" y="494" width="5" height="31" fill="#000"/>
<rect x="31" y="500" width="1" height="37" fill="#000"/>
<rect x="29" y="524" width="5" height="2" fill="#000"/>
<rect x="39" y="467" width="1" height="71" fill="#000"/>
<rect x="37" y="472" width="5" height="53" fill="#000"/>
<rect x="38" y="473" width="3" height="51" fill="#fff"/>
<rect x="47" y="438" width="1" height="55" fill="#000"/>
<rect x="45" y="451" width="5" height="22" fill="#000"/>
<rect x="46" y="452" width="3" height="20" fill="#fff"/>
<rect x="55" y="440" width="1" height="18" fill="#000"/>
<rect x="53" y="451" width="5" height="1" fill="#000"/>
<rect x="63" y="435" width="1" height="24" fill="#000"/>
<rect x="61" y="438" width="5" height="14" fill="#000"/>
<rect x="62" y="439" width="3" height="12" fill="#fff"/>
<rect x="71" y="405" width="1" height="52" fill="#000"/>
<rect x="69" y="425" width="5" height="14" fill="#000"/>
<rect x="70" y="426" width="3" height="12" fill="#fff"/>
<rect x="79" y="410" width="1" height="35" fill="#000"/>
<rect x="77" y="415" width="5" height="11" fill="#000"/>
<rect x="78" y="416" width="3" height="9" fill="#fff"/>
<rect x="87" y="397" width="1" height="41" fill="#000"/>
<rect x="85" y="415" width="5" height="18" fill="#000"/>
<rect x="95" y="370" width="1" height="65" fill="#000"/>
<rect x="93" y="372" width="5" height="61" fill="#000"/>
<rect x="94" y="373" width="3" height="59" fill="#fff"/>
<rect x="103" y="340" width="1" height="34" fill="#000"/>
<rect x="101" y="342" width="5" height="31" fill="#000"/>
<rect x="102" y="343" width="3" height="29" fill="#fff"/>
<rect x="111" y="334" width="1" height="18" fill="#000"/>
<rect x="109" y="339" width="5" height="4" fill="#000"/>
<rect x="110" y="340" width="3" height="2" fill="#fff"/>
<rect x="119" y="304" width="1" height="41" fill="#000"/>
<rect x="117" y="319" width="5" height="22" fill="#000"/>
<rect x="118" y="320" width="3" height="20" fill="#fff"/>
<rect x="127" y="281" width="1" height="47" fill="#000"/>
<rect x="125" y="292" width="5" height="28" fill="#000"/>
<rect x="126" y="293" width="3" height="26" fill="#fff"/>
<rect x="135" y="290" width="1" height="34" fill="#000"/>
<rect x="133" y="292" width="5" height="22" fill="#000"/>
<rect x="143" y="296" width="1" height="53" fill="#000"/>
<rect x="141" y="312" width="5" height="19" fill="#000"/>
<rect x="151" y="295" width="1" height="76" fill="#000"/>
<rect x="149" y="329" width="5" height="40" fill="#000"/>
<rect x="159" y="361" width="1" height="24" fill="#000"/>
<rect x="157" y="367" width="5" height="17" fill="#000"/>
<rect x="167" y="353" width="1" height="44" fill="#000"/>
<rect x="165" y="361" width="5" height="23" fill="#000"/>
<rect x="166" y="362" width="3" height="21" fill="#fff"/>
<rect x="175" y="313" width="1" height="62" fill="#000"/>
<rect x="173" y="314" width="5" height="47" fill="#000"/>
<rect x="174" y="315" width="3" height="45" fill="#fff"/>
<rect x="183" y="283" width="1" height="42" fill="#000"/>
<rect x="181" y="298" width="5" height="18" fill="#000"/>
<rect x="182" y="299" width="3" height="16" fill="#fff"/>
<rect x="191" y="254" width="1" height="70" fill="#000"/>
<rect x="189" y="299" width="5" height="5" fill="#000"/>
<rect x="199" y="302" width="1" height="29" fill="#000"/>
<rect x="197" y="303" width="5" height="13" fill="#000"/>
<rect x="207" y="303" width="1" height="18" fill="#000"/>
<rect x="205" y="311" width="5" height="4" fill="#000"/>
<rect x="206" y="312" width="3" height="2" fill="#fff"/>
<rect x="215" y="284" width="1" height="63" fill="#000"/>
<rect x="213" y="312" width="5" height="14" fill="#000"/>
<rect x="223" y="311" width="1" height="32" fill="#000"/>
<rect x="221" y="315" width="5" height="11" fill="#000"/>
<rect x="222" y="316" width="3" height="9" fill="#fff"/>
<rect x="231" y="302" width="1" height="36" fill="#000"/>
<rect x="229" y="309" width="5" height="7" fill="#000"/>
<rect x="230" y="310" width="3" height="5" fill="#fff"/>
<rect x="239" y="233" width="1" height="86" fill="#000"/>
<rect x="237" y="235" width="5" height="75" fill="#000"/>
<rect x="238" y="236" width="3" height="73" fill="#fff"/>
<rect x="247" y="233" width="1" height="15" fill="#000"/>
<rect x="245" y="235" width="5" height="7" fill="#000"/>
<rect x="255" y="237" width="1" height="9" fill="#000"/>
<rect x="253" y="238" width="5" height="6" fill="#000"/>
<rect x="263" y="192" width="1" height="52" fill="#000"/>
<rect x="261" y="197" width="5" height="47" fill="#000"/>
<rect x="262" y="198" width="3" height="45" fill="#fff"/>
<rect x="271" y="174" width="1" height="30" fill="#000"/>
<rect x="269" y="178" width="5" height="20" fill="#000"/>
<rect x="270" y="179" width="3" height="18" fill="#fff"/>
<rect x="279" y="169" width="1" height="55" fill="#000"/>
<rect x="277" y="178" width="5" height="33" fill="#000"/>
<rect x="287" y="201" width="1" height="114" fill="#000"/>
<rect x="285" y="210" width="5" height="70" fill="#000"/>
<rect x="295" y="267" width="1" height="20" fill="#000"/>
<rect x="293" y="275" width="5" height="6" fill="#000"/>
<rect x="294" y="276" width="3" height="4" fill="#fff"/>
<rect x="303" y="272" width="1" height="19" fill="#000"/>
<rect x="301" y="275" width="5" height="5" fill="#000"/>
<rect x="311" y="246" width="1" height="39" fill="#000"/>
<rect x="309" y="249" width="5" height="30" fill="#000"/>
<rect x="310" y="250" width="3" height="28" fill="#fff"/>
<rect x="319" y="206" width="1" height="44" fill="#000"/>
<rect x="317" y="222" width="5" height="28" fill="#000"/>
<rect x="318" y="223" width="3" height="26" fill="#fff"/>
<rect x="327" y="209" width="1" height="59" fill="#000"/>
<rect x="325" y="222" width="5" height="20" fill="#000"/>
<rect x="335" y="218" width="1" height="70" fill="#000"/>
<rect x="333" y="232" width="5" height="11" fill="#000"/>
<rect x="334" y="233" width="3" height="9" fill="#fff"/>
<rect x="343" y="227" width="1" height="27" fill="#000"/>
<rect x="341" y="232" width="5" height="10" fill="#000"/>
<rect x="351" y="233" width="1" height="15" fill="#000"/>
<rect x="349" y="235" width="5" height="7" fill="#000"/>
<rect x="350" y="236" width="3" height="5" fill="#fff"/>
<rect x="359" y="227" width="1" height="33" fill="#000"/>
<rect x="357" y="235" width="5" height="11" fill="#000"/>
<rect x="367" y="209" width="1" height="38" fill="#000"/>
<rect x="365" y="229" width="5" height="17" fill="#000"/>
<rect x="366" y="230" width="3" height="15" fill="#fff"/>
<rect x="375" y="222" width="1" height="28" fill="#000"/>
<rect x="373" y="229" width="5" height="7" fill="#000"/>
<rect x="383" y="224" width="1" height="46" fill="#000"/>
<rect x="381" y="235" width="5" height="12" fill="#000"/>
<rect x="391" y="237" width="1" height="27" fill="#000"/>
<rect x="389" y="246" width="5" height="15" fill="#000"/>
<rect x="399" y="245" width="1" height="20" fill="#000"/>
<rect x="397" y="255" width="5" height="6" fill="#000"/>
<rect x="398" y="256" width="3" height="4" fill="#fff"/>
<rect x="407" y="217" width="1" height="45" fill="#000"/>
<rect x="405" y="228" width="5" height="28" fill="#000"/>
<rect x="406" y="229" width="3" height="26" fill="#fff"/>
<rect x="415" y="219" width="1" height="33" fill="#000"/>
<rect x="413" y="228" width="5" height="7" fill="#000"/>
<rect x="423" y="229" width="1" height="56" fill="#000"/>
<rect x="421" y="235" width="5" height="31" fill="#000"/>
<rect x="431" y="222" width="1" height="69" fill="#000"/>
<rect x="429" y="264" width="5" height="3" fill="#000"/>
<rect x="430" y="265" width="3" height="1" fill="#fff"/>
<rect x="439" y="261" width="1" height="34" fill="#000"/>
<rect x="437" y="264" width="5" height="24" fill="#000"/>
<rect x="447" y="277" width="1" height="14" fill="#000"/>
<rect x="445" y="285" width="5" height="3" fill="#000"/>
<rect x="446" y="286" width="3" height="1" fill="#fff"/>
<rect x="455" y="260" width="1" height="47" fill="#000"/>
<rect x="453" y="276" width="5" height="11" fill="#000"/>
<rect x="454" y="277" width="3" height="9" fill="#fff"/>
<rect x="463" y="259" width="1" height="29" fill="#000"/>
<rect x="461" y="268" width="5" height="8" fill="#000"/>
<rect x="462" y="269" width="3" height="6" fill="#fff"/>
<rect x="471" y="256" width="1" height="24" fill="#000"/>
<rect x="469" y="258" width="5" height="11" fill="#000"/>
<rect x="470" y="259" width="3" height="9" fill="#fff"/>
<rect x="479" y="243" width="1" height="171" fill="#000"/>
<rect x="477" y="256" width="5" height="125" fill="#000"/>
<rect x="487" y="340" width="1" height="41" fill="#000"/>
<rect x="485" y="363" width="5" height="18" fill="#000"/>
<rect x="486" y="364" width="3" height="16" fill="#fff"/>
<rect x="495" y="370" width="1" height="18" fill="#000"/>
<rect x="493" y="371" width="5" height="4" fill="#000"/>
<rect x="494" y="372" width="3" height="2" fill="#fff"/>
<rect x="503" y="309" width="1" height="65" fill="#000"/>
<rect x="501" y="315" width="5" height="56" fill="#000"/>
<rect x="502" y="316" width="3" height="54" fill="#fff"/>
<rect x="511" y="285" width="1" height="47" fill="#000"/>
<rect x="509" y="308" width="5" height="8" fill="#000"/>
<rect x="510" y="309" width="3" height="6" fill="#fff"/>
<rect x="519" y="300" width="1" height="53" fill="#000"/>
<rect x="517" y="308" width="5" height="24" fill="#000"/>
<rect x="527" y="324" width="1" height="34" fill="#000"/>
<rect x="525" y="330" width="5" height="18" fill="#000"/>
<rect x="535" y="318" width="1" height="30" fill="#000"/>
<rect x="533" y="334" width="5" height="14" fill="#000"/>
<rect x="534" y="335" width="3" height="12" fill="#fff"/>
<rect x="543" y="320" width="1" height="23" fill="#000"/>
<rect x="541" y="322" width="5" height="13" fill="#000"/>
<rect x="542" y="323" width="3" height="11" fill="#fff"/>
<rect x="551" y="298" width="1" height="35" fill="#000"/>
<rect x="549" y="315" width="5" height="9" fill="#000"/>
<rect x="550" y="316" width="3" height="7" fill="#fff"/>
<rect x="559" y="303" width="1" height="29" fill="#000"/>
<rect x="557" y="306" width="5" height="9" fill="#000"/>
<rect x="558" y="307" width="3" height="7" fill="#fff"/>
<rect x="567" y="298" width="1" height="71" fill="#000"/>
<rect x="565" y="305" width="5" height="64" fill="#000"/>
<rect x="575" y="353" width="1" height="59" fill="#000"/>
<rect x="573" y="368" width="5" height="11" fill="#000"/>
<rect x="583" y="352" width="1" height="31" fill="#000"/>
<rect x="581" y="356" width="5" height="23" fill="#000"/>
<rect x="582" y="357" width="3" height="21" fill="#fff"/>
<rect x="591" y="342" width="1" height="25" fill="#000"/>
<rect x="589" y="346" width="5" height="11" fill="#000"/>
<rect x="590" y="347" width="3" height="9" fill="#fff"/>
<rect x="599" y="312" width="1" height="42" fill="#000"/>
<rect x="597" y="322" width="5" height="25" fill="#000"/>
<rect x="598" y="323" width="3" height="23" fill="#fff"/>
<rect x="607" y="313" width="1" height="32" fill="#000"/>
<rect x="605" y="321" width="5" height="11" fill="#000"/>
<rect x="615" y="324" width="1" height="32" fill="#000"/>
<rect x="613" y="331" width="5" height="9" fill="#000"/>
<rect x="623" y="198" width="1" height="149" fill="#000"/>
<rect x="621" y="201" width="5" height="139" fill="#000"/>
<rect x="622" y="202" width="3" height="137" fill="#fff"/>
<rect x="631" y="180" width="1" height="24" fill="#000"/>
<rect x="629" y="190" width="5" height="11" fill="#000"/>
<rect x="630" y="191" width="3" height="9" fill="#fff"/>
<rect x="639" y="168" width="1" height="24" fill="#000"/>
<rect x="637" y="176" width="5" height="15" fill="#000"/>
<rect x="638" y="177" width="3" height="13" fill="#fff"/>
<rect x="647" y="153" width="1" height="56" fill="#000"/>
<rect x="645" y="167" width="5" height="8" fill="#000"/>
<rect x="646" y="168" width="3" height="6" fill="#fff"/>
<rect x="655" y="159" width="1" height="51" fill="#000"/>
<rect x="653" y="167" width="5" height="10" fill="#000"/>
<rect x="663" y="172" width="1" height="35" fill="#000"/>
<rect x="661" y="174" width="5" height="13" fill="#000"/>
<rect x="671" y="171" width="1" height="39" fill="#000"/>
<rect x="669" y="187" width="5" height="6" fill="#000"/>
<rect x="679" y="190" width="1" height="33" fill="#000"/>
<rect x="677" y="192" width="5" height="29" fill="#000"/>
<rect x="687" y="200" width="1" height="21" fill="#000"/>
<rect x="685" y="202" width="5" height="19" fill="#000"/>
<rect x="686" y="203" width="3" height="17" fill="#fff"/>
<rect x="695" y="177" width="1" height="28" fill="#000"/>
<rect x="693" y="194" width="5" height="9" fill="#000"/>
<rect x="694" y="195" width="3" height="7" fill="#fff"/>
<rect x="703" y="193" width="1" height="42" fill="#000"/>
<rect x="701" y="193" width="5" height="34" fill="#000"/>
<rect x="711" y="221" width="1" height="31" fill="#000"/>
<rect x="709" y="226" width="5" height="12" fill="#000"/>
<rect x="719" y="213" width="1" height="49" fill="#000"/>
<rect x="717" y="228" width="5" height="10" fill="#000"/>
<rect x="718" y="229" width="3" height="8" fill="#fff"/>
<rect x="727" y="215" width="1" height="19" fill="#000"/>
<rect x="725" y="228" width="5" height="6" fill="#000"/>
<rect x="735" y="219" width="1" height="11" fill="#000"/>
<rect x="733" y="220" width="5" height="3" fill="#000"/>
<rect x="734" y="221" width="3" height="1" fill="#fff"/>
<rect x="743" y="204" width="1" height="45" fill="#000"/>
<rect x="741" y="218" width="5" height="16" fill="#000"/>
<rect x="751" y="222" width="1" height="47" fill="#000"/>
<rect x="749" y="232" width="5" height="19" fill="#000"/>
<rect x="759" y="236" width="1" height="46" fill="#000"/>
<rect x="757" y="249" width="5" height="10" fill="#000"/>
<rect x="767" y="242" width="1" height="31" fill="#000"/>
<rect x="765" y="258" width="5" height="7" fill="#000"/>
<rect x="775" y="257" width="1" height="23" fill="#000"/>
<rect x="773" y="263" width="5" height="2" fill="#000"/>
<rect x="783" y="250" width="1" height="16" fill="#000"/>
<rect x="781" y="251" width="5" height="14" fill="#000"/>
<rect x="782" y="252" width="3" height="12" fill="#fff"/>
<rect x="791" y="244" width="1" height="33" fill="#000"/>
<rect x="789" y="250" width="5" height="13" fill="#000"/>
<rect x="799" y="253" width="1" height="53" fill="#000"/>
<rect x="797" y="261" width="5" height="41" fill="#000"/>
<rect x="807" y="282" width="1" height="41" fill="#000"/>
<rect x="805" y="300" width="5" height="5" fill="#000"/>
<rect x="815" y="291" width="1" height="34" fill="#000"/>
<rect x="813" y="292" width="5" height="14" fill="#000"/>
<rect x="814" y="293" width="3" height="12" fill="#fff"/>
<rect x="823" y="292" width="1" height="29" fill="#000"/>
<rect x="821" y="292" width="5" height="21" fill="#000"/>
<rect x="831" y="305" width="1" height="21" fill="#000"/>
<rect x="829" y="312" width="5" height="7" fill="#000"/>
<rect x="839" y="281" width="1" height="40" fill="#000"/>
<rect x="837" y="307" width="5" height="13" fill="#000"/>
<rect x="838" y="308" width="3" height="11" fill="#fff"/>
<rect x="847" y="272" width="1" height="41" fill="#000"/>
<rect x="845" y="280" width="5" height="28" fill="#000"/>
<rect x="846" y="281" width="3" height="26" fill="#fff"/>
<rect x="855" y="234" width="1" height="56" fill="#000"/>
<rect x="853" y="262" width="5" height="19" fill="#000"/>
<rect x="854" y="263" width="3" height="17" fill="#fff"/>
<rect x="863" y="256" width="1" height="116" fill="#000"/>
<rect x="861" y="262" width="5" height="76" fill="#000"/>
<rect x="871" y="241" width="1" height="102" fill="#000"/>
<rect x="869" y="258" width="5" height="81" fill="#000"/>
<rect x="870" y="259" width="3" height="79" fill="#fff"/>
<rect x="879" y="239" width="1" height="26" fill="#000"/>
<rect x="877" y="248" width="5" height="10" fill="#000"/>
<rect x="878" y="249" width="3" height="8" fill="#fff"/>
<rect x="887" y="242" width="1" height="37" fill="#000"/>
<rect x="885" y="247" width="5" height="24" fill="#000"/>
<rect x="895" y="264" width="1" height="39" fill="#000"/>
<rect x="893" y="270" width="5" height="29" fill="#000"/>
<rect x="903" y="290" width="1" height="28" fill="#000"/>
<rect x="901" y="298" width="5" height="12" fill="#000"/>
<rect x="911" y="290" width="1" height="50" fill="#000"/>
<rect x="909" y="309" width="5" height="24" fill="#000"/>
<rect x="919" y="324" width="1" height="14" fill="#000"/>
<rect x="917" y="332" width="5" height="3" fill="#000"/>
<rect x="927" y="318" width="1" height="22" fill="#000"/>
<rect x="925" y="319" width="5" height="16" fill="#000"/>
<rect x="926" y="320" width="3" height="14" fill="#fff"/>
<rect x="935" y="312" width="1" height="21" fill="#000"/>
<rect x="933" y="318" width="5" height="3" fill="#000"/>
<rect x="943" y="319" width="1" height="34" fill="#000"/>
<rect x="941" y="320" width="5" height="30" fill="#000"/>
<rect x="951" y="324" width="1" height="41" fill="#000"/>
<rect x="949" y="325" width="5" height="25" fill="#000"/>
<rect x="950" y="326" width="3" height="23" fill="#fff"/>
<rect x="959" y="297" width="1" height="56" fill="#000"/>
<rect x="957" y="306" width="5" height="19" fill="#000"/>
<rect x="958" y="307" width="3" height="17" fill="#fff"/>
<rect x="967" y="293" width="1" height="18" fill="#000"/>
<rect x="965" y="306" width="5" height="4" fill="#000"/>
<rect x="975" y="303" width="1" height="10" fill="#000"/>
<rect x="973" y="304" width="5" height="7" fill="#000"/>
<rect x="983" y="295" width="1" height="29" fill="#000"/>
<rect x="981" y="310" width="5" height="11" fill="#000"/>
<rect x="991" y="318" width="1" height="32" fill="#000"/>
<rect x="989" y="319" width="5" height="20" fill="#000"/>
<rect x="999" y="297" width="1" height="45" fill="#000"/>
<rect x="997" y="307" width="5" height="32" fill="#000"/>
<rect x="998" y="308" width="3" height="30" fill="#fff"/>
<rect x="1007" y="304" width="1" height="45" fill="#000"/>
<rect x="1005" y="308" width="5" height="22" fill="#000"/>
<rect x="1015" y="324" width="1" height="14" fill="#000"/>
<rect x="1013" y="328" width="5" height="8" fill="#000"/>
<rect x="1023" y="318" width="1" height="24" fill="#000"/>
<rect x="1021" y="321" width="5" height="15" fill="#000"/>
<rect x="1022" y="322" width="3" height="13" fill="#fff"/>
<rect x="1031" y="322" width="1" height="26" fill="#000"/>
<rect x="1029" y="322" width="5" height="26" fill="#000"/>
<rect x="1039" y="333" width="1" height="41" fill="#000"/>
<rect x="1037" y="344" width="5" height="3" fill="#000"/>
<rect x="1038" y="345" width="3" height="1" fill="#fff"/>
<rect x="1047" y="301" width="1" height="45" fill="#000"/>
<rect x="1045" y="318" width="5" height="27" fill="#000"/>
<rect x="1046" y="319" width="3" height="25" fill="#fff"/>
<rect x="1055" y="282" width="1" height="43" fill="#000"/>
<rect x="1053" y="302" width="5" height="23" fill="#000"/>
<rect x="1054" y="303" width="3" height="21" fill="#fff"/>
<rect x="1063" y="292" width="1" height="57" fill="#000"/>
<rect x="1061" y="302" width="5" height="40" fill="#000"/>
<rect x="1071" y="327" width="1" height="17" fill="#000"/>
<rect x="1069" y="332" width="5" height="10" fill="#000"/>
<rect x="1070" y="333" width="3" height="8" fill="#fff"/>
<rect x="1079" y="325" width="1" height="20" fill="#000"/>
<rect x="1077" y="329" width="5" height="3" fill="#000"/>
<rect x="1078" y="330" width="3" height="1" fill="#fff"/>
<rect x="1087" y="312" width="1" height="28" fill="#000"/>
<rect x="1085" y="325" width="5" height="6" fill="#000"/>
<rect x="1086" y="326" width="3" height="4" fill="#fff"/>
<rect x="1095" y="306" width="1" height="26" fill="#000"/>
<rect x="1093" y="312" width="5" height="13" fill="#000"/>
<rect x="1094" y="313" width="3" height="11" fill="#fff"/>
<rect x="1103" y="269" width="1" height="51" fill="#000"/>
<rect x="1101" y="276" width="5" height="36" fill="#000"/>
<rect x="1102" y="277" width="3" height="34" fill="#fff"/>
<rect x="1111" y="262" width="1" height="23" fill="#000"/>
<rect x="1109" y="269" width="5" height="8" fill="#000"/>
<rect x="1110" y="270" width="3" height="6" fill="#fff"/>
<rect x="1119" y="262" width="1" height="13" fill="#000"/>
<rect x="1117" y="264" width="5" height="6" fill="#000"/>
<rect x="1118" y="265" width="3" height="4" fill="#fff"/>
<rect x="1127" y="258" width="1" height="31" fill="#000"/>
<rect x="1125" y="263" width="5" height="22" fill="#000"/>
<rect x="1135" y="267" width="1" height="22" fill="#000"/>
<rect x="1133" y="277" width="5" height="9" fill="#000"/>
<rect x="1134" y="278" width="3" height="7" fill="#fff"/>
<rect x="1143" y="249" width="1" height="37" fill="#000"/>
<rect x="1141" y="254" width="5" height="24" fill="#000"/>
<rect x="1142" y="255" width="3" height="22" fill="#fff"/>
<rect x="1151" y="142" width="1" height="115" fill="#000"/>
<rect x="1149" y="148" width="5" height="106" fill="#000"/>
<rect x="1150" y="149" width="3" height="104" fill="#fff"/>
<rect x="1159" y="130" width="1" height="30" fill="#000"/>
<rect x="1157" y="148" width="5" height="8" fill="#000"/>
<rect x="1167" y="140" width="1" height="21" fill="#000"/>
<rect x="1165" y="150" width="5" height="5" fill="#000"/>
<rect x="1166" y="151" width="3" height="3" fill="#fff"/>
<rect x="1175" y="122" width="1" height="28" fill="#000"/>
<rect x="1173" y="132" width="5" height="18" fill="#000"/>
<rect x="1174" y="133" width="3" height="16" fill="#fff"/>
<rect x="1183" y="124" width="1" height="26" fill="#000"/>
<rect x="1181" y="132" width="5" height="4" fill="#000"/>
<rect x="1191" y="100" width="1" height="53" fill="#000"/>
<rect x="1189" y="108" width="5" height="28" fill="#000"/>
<rect x="1190" y="109" width="3" height="26" fill="#fff"/>
<rect x="1199" y="80" width="1" height="70" fill="#000"/>
<rect x="1197" y="108" width="5" height="36" fill="#000"/>
<rect x="1207" y="143" width="1" height="20" fill="#000"/>
<rect x="1205" y="144" width="5" height="7" fill="#000"/>
<rect x="1215" y="127" width="1" height="15" fill="#000"/>
<rect x="1213" y="132" width="5" height="8" fill="#000"/>
<rect x="1214" y="133" width="3" height="6" fill="#fff"/>
<rect x="1223" y="127" width="1" height="55" fill="#000"/>
<rect x="1221" y="133" width="5" height="39" fill="#000"/>
<rect x="1231" y="152" width="1" height="29" fill="#000"/>
<rect x="1229" y="167" width="5" height="6" fill="#000"/>
<rect x="1230" y="168" width="3" height="4" fill="#fff"/>
<rect x="1239" y="161" width="1" height="20" fill="#000"/>
<rect x="1237" y="166" width="5" height="11" fill="#000"/>
<rect x="1247" y="172" width="1" height="61" fill="#000"/>
<rect x="1245" y="174" width="5" height="36" fill="#000"/>
<rect x="1255" y="196" width="1" height="17" fill="#000"/>
<rect x="1253" y="196" width="5" height="13" fill="#000"/>
<rect x="1254" y="197" width="3" height="11" fill="#fff"/>
<rect x="1263" y="190" width="1" height="20" fill="#000"/>
<rect x="1261" y="196" width="5" height="12" fill="#000"/>
<rect x="1271" y="197" width="1" height="41" fill="#000"/>
<rect x="1269" y="207" width="5" height="9" fill="#000"/>
<rect x="1279" y="198" width="1" height="23" fill="#000"/>
<rect x="1277" y="207" width="5" height="9" fill="#000"/>
<rect x="1278" y="208" width="3" height="7" fill="#fff"/>
<rect x="1287" y="172" width="1" height="37" fill="#000"/>
<rect x="1285" y="182" width="5" height="27" fill="#000"/>
<rect x="1286" y="183" width="3" height="25" fill="#fff"/>
<rect x="1295" y="167" width="1" height="68" fill="#000"/>
<rect x="1293" y="181" width="5" height="37" fill="#000"/>
<rect x="1303" y="208" width="1" height="18" fill="#000"/>
<rect x="1301" y="210" width="5" height="9" fill="#000"/>
<rect x="1302" y="211" width="3" height="7" fill="#fff"/>
<rect x="1311" y="205" width="1" height="10" fill="#000"/>
<rect x="1309" y="206" width="5" height="4" fill="#000"/>
<rect x="1310" y="207" width="3" height="2" fill="#fff"/>
<rect x="1319" y="177" width="1" height="33" fill="#000"/>
<rect x="1317" y="184" width="5" height="23" fill="#000"/>
<rect x="1318" y="185" width="3" height="21" fill="#fff"/>
<rect x="1327" y="155" width="1" height="33" fill="#000"/>
<rect x="1325" y="156" width="5" height="29" fill="#000"/>
<rect x="1326" y="157" width="3" height="27" fill="#fff"/>
<rect x="1335" y="135" width="1" height="27" fill="#000"/>
<rect x="1333" y="153" width="5" height="6" fill="#000"/>
<rect x="1334" y="154" width="3" height="4" fill="#fff"/>
<rect x="1343" y="152" width="1" height="43" fill="#000"/>
<rect x="1341" y="153" width="5" height="35" fill="#000"/>
<rect x="1351" y="180" width="1" height="21" fill="#000"/>
<rect x="1349" y="187" width="5" height="10" fill="#000"/>
<rect x="1359" y="185" width="1" height="13" fill="#000"/>
<rect x="1357" y="188" width="5" height="9" fill="#000"/>
<rect x="1358" y="189" width="3" height="7" fill="#fff"/>
<rect x="1367" y="170" width="1" height="24" fill="#000"/>
<rect x="1365" y="174" width="5" height="17" fill="#000"/>
<rect x="1366" y="175" width="3" height="15" fill="#fff"/>
<rect x="1375" y="144" width="1" height="31" fill="#000"/>
<rect x="1373" y="145" width="5" height="29" fill="#000"/>
<rect x="1374" y="146" width="3" height="27" fill="#fff"/>
<rect x="1383" y="143" width="1" height="41" fill="#000"/>
<rect x="1381" y="145" width="5" height="8" fill="#000"/>
<rect x="1391" y="60" width="1" height="99" fill="#000"/>
<rect x="1389" y="64" width="5" height="89" fill="#000"/>
<rect x="1390" y="65" width="3" height="87" fill="#fff"/>
<rect x="1439" y="98" width="1" height="132" fill="#000"/>
<rect x="1437" y="98" width="5" height="121" fill="#000"/>
<rect x="1447" y="199" width="1" height="20" fill="#000"/>
<rect x="1445" y="205" width="5" height="14" fill="#000"/>
<rect x="1446" y="206" width="3" height="12" fill="#fff"/>
<rect x="1455" y="180" width="1" height="14" fill="#000"/>
<rect x="1453" y="184" width="5" height="7" fill="#000"/>
<rect x="1454" y="185" width="3" height="5" fill="#fff"/>
<rect x="1463" y="180" width="1" height="31" fill="#000"/>
<rect x="1461" y="183" width="5" height="12" fill="#000"/>
<rect x="1471" y="189" width="1" height="38" fill="#000"/>
<rect x="1469" y="194" width="5" height="26" fill="#000"/>
<rect x="1399" y="59" width="1" height="15" fill="#000"/>
<rect x="1397" y="64" width="5" height="4" fill="#000"/>
<rect x="1407" y="57" width="1" height="15" fill="#000"/>
<rect x="1405" y="64" width="5" height="2" fill="#000"/>
<rect x="1415" y="57" width="1" height="35" fill="#000"/>
<rect x="1413" y="63" width="5" height="12" fill="#000"/>
<rect x="1423" y="65" width="1" height="23" fill="#000"/>
<rect x="1421" y="74" width="5" height="9" fill="#000"/>
<rect x="1431" y="79" width="1" height="22" fill="#000"/>
<rect x="1429" y="83" width="5" height="16" fill="#000"/>
<rect x="1479" y="208" width="1" height="43" fill="#000"/>
<rect x="1477" y="219" width="5" height="23" fill="#000"/>
<rect x="1487" y="241" width="1" height="20" fill="#000"/>
<rect x="1485" y="241" width="5" height="8" fill="#000"/>
<rect x="1495" y="245" width="1" height="12" fill="#000"/>
<rect x="1493" y="247" width="5" height="7" fill="#000"/>
<rect x="1503" y="246" width="1" height="7" fill="#000"/>
<rect x="1501" y="251" width="5" height="2" fill="#000"/>
</g>
<rect x="-1.5" y="155.5" width="5" height="4" fill="#fff" stroke="#ff0000" shape-rendering="crispEdges"/>
<rect x="1681.5" y="155.5" width="4" height="4" fill="#fff" stroke="#ff0000" shape-rendering="crispEdges"/>
<rect x="1688" y="151" width="41" height="11" fill="#ff0000" shape-rendering="crispEdges"/>
<text class="ax" x="1692.5" y="159.8" textLength="32.5" lengthAdjust="spacingAndGlyphs" style="fill:#fff;stroke:#fff">109.764</text>
<rect x="-1.5" y="202.5" width="5" height="4" fill="#fff" stroke="#ff0000" shape-rendering="crispEdges"/>
<rect x="1681.5" y="202.5" width="4" height="4" fill="#fff" stroke="#ff0000" shape-rendering="crispEdges"/>
<rect x="1688" y="198" width="41" height="11" fill="#ff0000" shape-rendering="crispEdges"/>
<text class="ax" x="1692.5" y="206.8" textLength="32.5" lengthAdjust="spacingAndGlyphs" style="fill:#fff;stroke:#fff">109.499</text>
<rect x="-1.5" y="237.5" width="5" height="4" fill="#fff" stroke="#32cd32" shape-rendering="crispEdges"/>
<rect x="1681.5" y="237.5" width="4" height="4" fill="#fff" stroke="#32cd32" shape-rendering="crispEdges"/>
<rect x="1688" y="233" width="41" height="11" fill="#32cd32" shape-rendering="crispEdges"/>
<text class="ax" x="1692.5" y="241.8" textLength="32.5" lengthAdjust="spacingAndGlyphs" style="fill:#fff;stroke:#fff">109.304</text>
<rect x="-1.5" y="291.5" width="5" height="4" fill="#fff" stroke="#0000ff" shape-rendering="crispEdges"/>
<rect x="1681.5" y="291.5" width="4" height="4" fill="#fff" stroke="#0000ff" shape-rendering="crispEdges"/>
<rect x="1688" y="287" width="41" height="11" fill="#0000ff" shape-rendering="crispEdges"/>
<text class="ax" x="1692.5" y="295.8" textLength="32.5" lengthAdjust="spacingAndGlyphs" style="fill:#fff;stroke:#fff">109.005</text>
<rect x="-1.5" y="335.5" width="5" height="4" fill="#fff" stroke="#0000cd" shape-rendering="crispEdges"/>
<rect x="1681.5" y="335.5" width="4" height="4" fill="#fff" stroke="#0000cd" shape-rendering="crispEdges"/>
<rect x="1688" y="331" width="41" height="11" fill="#0000cd" shape-rendering="crispEdges"/>
<text class="ax" x="1692.5" y="339.8" textLength="32.5" lengthAdjust="spacingAndGlyphs" style="fill:#fff;stroke:#fff">108.758</text>
<rect x="1688" y="247" width="41" height="11" fill="#000" shape-rendering="crispEdges"/>
<text class="ax" x="1692.5" y="255.8" textLength="32.5" lengthAdjust="spacingAndGlyphs" style="fill:#fff;stroke:#fff">109.232</text>
<rect x="1304.5" y="248.5" width="110" height="24" fill="none" stroke="#404040" stroke-width="1" shape-rendering="crispEdges"/>
<text x="1305.5" y="266.6" style="font-family:'Noto Sans CJK SC','WenQuanYi Zen Hei',sans-serif;font-size:21px;font-weight:300;fill:#00ff00" textLength="105.5" lengthAdjust="spacing">多空转折点</text>
<rect x="1357.5" y="246.5" width="2" height="2" fill="#fff" stroke="#00e000" shape-rendering="crispEdges"/>
<line x1="1030.0" y1="354.0" x2="1213.7" y2="103.3" stroke="#ff0000" stroke-width="3.3"/>
<polygon points="1219.0,96.0 1216.2,107.6 1208.8,102.2" fill="#ff0000"/>
<line x1="1219.0" y1="96.0" x2="1287.6" y2="219.1" stroke="#ff0000" stroke-width="3.3"/>
<polygon points="1292.0,227.0 1282.6,219.6 1290.7,215.2" fill="#ff0000"/>
<line x1="1294.0" y1="229.0" x2="1418.7" y2="58.8" stroke="#ff0000" stroke-width="3.3"/>
<polygon points="1424.0,51.5 1421.2,63.1 1413.8,57.7" fill="#ff0000"/>
<line x1="1424.0" y1="51.5" x2="1511.9" y2="292.3" stroke="#ff0000" stroke-width="3.3"/>
<polygon points="1515.0,300.8 1506.9,292.0 1515.5,288.9" fill="#ff0000"/>
<rect x="1411" y="231" width="163" height="10" fill="#00ff00" shape-rendering="crispEdges"/>
<polygon points="2,40 9,40 5.5,35" fill="#000"/>
<text x="14.3" y="41" style="font-size:9.3px;fill:#000" textLength="53.5" lengthAdjust="spacingAndGlyphs">USDJPY-,H4</text>
<text x="74.3" y="41" style="font-size:9.3px;fill:#000" textLength="140" lengthAdjust="spacingAndGlyphs">109.239 109.264 109.232 109.232</text>
<defs><linearGradient id="pTop" x1="0" y1="0" x2="0" y2="1"><stop offset="0" stop-color="#f85050"/><stop offset="1" stop-color="#d83030"/></linearGradient>
<linearGradient id="pBot" x1="0" y1="0" x2="0" y2="1"><stop offset="0" stop-color="#d62c2c"/><stop offset="0.6" stop-color="#c41414"/><stop offset="1" stop-color="#a80000"/></linearGradient>
<linearGradient id="pBtn" x1="0" y1="0" x2="0" y2="1"><stop offset="0" stop-color="#f6f6f6"/><stop offset="0.5" stop-color="#e0e0e0"/><stop offset="1" stop-color="#c8c8c8"/></linearGradient></defs>
<g shape-rendering="crispEdges">
<rect x="2" y="49" width="52" height="25" fill="url(#pTop)"/>
<rect x="169" y="49" width="52" height="25" fill="url(#pTop)"/>
<rect x="2" y="73" width="109" height="33" fill="url(#pBot)"/>
<rect x="113" y="73" width="108" height="33" fill="url(#pBot)"/>
<rect x="2" y="49" width="52" height="1" fill="#e02828"/><rect x="169" y="49" width="52" height="1" fill="#e02828"/>
<rect x="6" y="72" width="44" height="1" fill="#f08080"/><rect x="173" y="72" width="44" height="1" fill="#f08080"/>
<rect x="56.5" y="49.5" width="110" height="21" fill="#fff" stroke="#b8b8c0"/>
<rect x="58" y="51" width="19" height="18" fill="url(#pBtn)"/><rect x="77" y="51" width="1" height="18" fill="#b8b8c0"/>
<rect x="146" y="51" width="19" height="18" fill="url(#pBtn)"/><rect x="145" y="51" width="1" height="18" fill="#b8b8c0"/>
</g>
<polygon points="64.5,58.5 69.5,58.5 67,61.5" fill="#5560c0"/><polygon points="153,61 158,61 155.5,58" fill="#5560c0"/>
<text x="119" y="64.5" style="font-size:11.5px;fill:#000" textLength="23" lengthAdjust="spacingAndGlyphs">1.00</text>
<text x="14.5" y="65" style="font-size:11.5px;fill:#fff" textLength="25.5" lengthAdjust="spacingAndGlyphs">SELL</text>
<text x="182.5" y="65" style="font-size:11.5px;fill:#fff" textLength="22.5" lengthAdjust="spacingAndGlyphs">BUY</text>
<text x="25.5" y="101" style="font-size:11.5px;font-weight:bold;fill:#fff" textLength="20" lengthAdjust="spacingAndGlyphs">109</text>
<text x="50.5" y="101" style="font-size:33.5px;fill:#fff" textLength="33.5" lengthAdjust="spacingAndGlyphs">23</text>
<text x="88.8" y="85.6" style="font-size:11px;font-weight:bold;fill:#fff">2</text>
<text x="135.5" y="101" style="font-size:11.5px;font-weight:bold;fill:#fff" textLength="20" lengthAdjust="spacingAndGlyphs">109</text>
<text x="160.5" y="101" style="font-size:33.5px;fill:#fff" textLength="33.5" lengthAdjust="spacingAndGlyphs">26</text>
<text x="198.8" y="85.6" style="font-size:11px;font-weight:bold;fill:#fff">2</text>
<polygon points="1512,30 1522,30 1517,35" fill="#c0c0c0"/>
<text x="3" y="597" style="font-size:9.3px;fill:#000" textLength="131" lengthAdjust="spacingAndGlyphs">MACD(12,26,9) -0.1032 0.0029</text>
<g shape-rendering="crispEdges" fill="#c0c0c0">
<rect x="7" y="688" width="1" height="52"/>
<rect x="15" y="688" width="1" height="50"/>
<rect x="23" y="688" width="1" height="53"/>
<rect x="31" y="688" width="1" height="54"/>
<rect x="39" y="688" width="1" height="48"/>
<rect x="47" y="688" width="1" height="38"/>
<rect x="55" y="688" width="1" height="31"/>
<rect x="63" y="688" width="1" height="22"/>
<rect x="71" y="688" width="1" height="13"/>
<rect x="79" y="688" width="1" height="5"/>
<rect x="87" y="688" width="1" height="1"/>
<rect x="95" y="677" width="1" height="12"/>
<rect x="103" y="662" width="1" height="27"/>
<rect x="111" y="651" width="1" height="38"/>
<rect x="119" y="640" width="1" height="49"/>
<rect x="127" y="628" width="1" height="61"/>
<rect x="135" y="621" width="1" height="68"/>
<rect x="143" y="620" width="1" height="69"/>
<rect x="151" y="625" width="1" height="64"/>
<rect x="159" y="632" width="1" height="57"/>
<rect x="167" y="635" width="1" height="54"/>
<rect x="175" y="631" width="1" height="58"/>
<rect x="183" y="628" width="1" height="61"/>
<rect x="191" y="625" width="1" height="64"/>
<rect x="199" y="624" width="1" height="65"/>
<rect x="207" y="626" width="1" height="63"/>
<rect x="215" y="628" width="1" height="61"/>
<rect x="223" y="630" width="1" height="59"/>
<rect x="231" y="632" width="1" height="57"/>
<rect x="239" y="623" width="1" height="66"/>
<rect x="247" y="616" width="1" height="73"/>
<rect x="255" y="613" width="1" height="76"/>
<rect x="263" y="604" width="1" height="85"/>
<rect x="271" y="594" width="1" height="95"/>
<rect x="279" y="593" width="1" height="96"/>
<rect x="287" y="605" width="1" height="84"/>
<rect x="295" y="614" width="1" height="75"/>
<rect x="303" y="621" width="1" height="68"/>
<rect x="311" y="625" width="1" height="64"/>
<rect x="319" y="623" width="1" height="66"/>
<rect x="327" y="625" width="1" height="64"/>
<rect x="335" y="628" width="1" height="61"/>
<rect x="343" y="631" width="1" height="58"/>
<rect x="351" y="632" width="1" height="57"/>
<rect x="359" y="636" width="1" height="53"/>
<rect x="367" y="637" width="1" height="52"/>
<rect x="375" y="641" width="1" height="48"/>
<rect x="383" y="644" width="1" height="45"/>
<rect x="391" y="651" width="1" height="38"/>
<rect x="399" y="655" width="1" height="34"/>
<rect x="407" y="655" width="1" height="34"/>
<rect x="415" y="656" width="1" height="33"/>
<rect x="423" y="661" width="1" height="28"/>
<rect x="431" y="667" width="1" height="22"/>
<rect x="439" y="673" width="1" height="16"/>
<rect x="447" y="679" width="1" height="10"/>
<rect x="455" y="683" width="1" height="6"/>
<rect x="463" y="684" width="1" height="5"/>
<rect x="471" y="684" width="1" height="5"/>
<rect x="479" y="688" width="1" height="13"/>
<rect x="487" y="688" width="1" height="25"/>
<rect x="495" y="688" width="1" height="35"/>
<rect x="503" y="688" width="1" height="34"/>
<rect x="511" y="688" width="1" height="32"/>
<rect x="519" y="688" width="1" height="33"/>
<rect x="527" y="688" width="1" height="36"/>
<rect x="535" y="688" width="1" height="36"/>
<rect x="543" y="688" width="1" height="31"/>
<rect x="551" y="688" width="1" height="30"/>
<rect x="559" y="688" width="1" height="27"/>
<rect x="567" y="688" width="1" height="33"/>
<rect x="575" y="688" width="1" height="38"/>
<rect x="583" y="688" width="1" height="39"/>
<rect x="591" y="688" width="1" height="38"/>
<rect x="599" y="688" width="1" height="32"/>
<rect x="607" y="688" width="1" height="29"/>
<rect x="615" y="688" width="1" height="28"/>
<rect x="623" y="688" width="1" height="5"/>
<rect x="631" y="674" width="1" height="15"/>
<rect x="639" y="658" width="1" height="31"/>
<rect x="647" y="643" width="1" height="46"/>
<rect x="655" y="634" width="1" height="55"/>
<rect x="663" y="629" width="1" height="60"/>
<rect x="671" y="626" width="1" height="63"/>
<rect x="679" y="629" width="1" height="60"/>
<rect x="687" y="630" width="1" height="59"/>
<rect x="695" y="629" width="1" height="60"/>
<rect x="703" y="634" width="1" height="55"/>
<rect x="711" y="641" width="1" height="48"/>
<rect x="719" y="645" width="1" height="44"/>
<rect x="727" y="650" width="1" height="39"/>
<rect x="735" y="652" width="1" height="37"/>
<rect x="743" y="656" width="1" height="33"/>
<rect x="751" y="662" width="1" height="27"/>
<rect x="759" y="668" width="1" height="21"/>
<rect x="767" y="674" width="1" height="15"/>
<rect x="775" y="680" width="1" height="9"/>
<rect x="783" y="682" width="1" height="7"/>
<rect x="791" y="685" width="1" height="4"/>
<rect x="799" y="688" width="1" height="5"/>
<rect x="807" y="688" width="1" height="12"/>
<rect x="815" y="688" width="1" height="15"/>
<rect x="823" y="688" width="1" height="21"/>
<rect x="831" y="688" width="1" height="26"/>
<rect x="839" y="688" width="1" height="28"/>
<rect x="847" y="688" width="1" height="26"/>
<rect x="855" y="688" width="1" height="20"/>
<rect x="863" y="688" width="1" height="28"/>
<rect x="871" y="688" width="1" height="21"/>
<rect x="879" y="688" width="1" height="13"/>
<rect x="887" y="688" width="1" height="11"/>
<rect x="895" y="688" width="1" height="14"/>
<rect x="903" y="688" width="1" height="17"/>
<rect x="911" y="688" width="1" height="23"/>
<rect x="919" y="688" width="1" height="28"/>
<rect x="927" y="688" width="1" height="29"/>
<rect x="935" y="688" width="1" height="29"/>
<rect x="943" y="688" width="1" height="34"/>
<rect x="951" y="688" width="1" height="33"/>
<rect x="959" y="688" width="1" height="30"/>
<rect x="967" y="688" width="1" height="27"/>
<rect x="975" y="688" width="1" height="25"/>
<rect x="983" y="688" width="1" height="24"/>
<rect x="991" y="688" width="1" height="26"/>
<rect x="999" y="688" width="1" height="23"/>
<rect x="1007" y="688" width="1" height="23"/>
<rect x="1015" y="688" width="1" height="24"/>
<rect x="1023" y="688" width="1" height="24"/>
<rect x="1031" y="688" width="1" height="25"/>
<rect x="1039" y="688" width="1" height="26"/>
<rect x="1047" y="688" width="1" height="23"/>
<rect x="1055" y="688" width="1" height="18"/>
<rect x="1063" y="688" width="1" height="19"/>
<rect x="1071" y="688" width="1" height="19"/>
<rect x="1079" y="688" width="1" height="18"/>
<rect x="1087" y="688" width="1" height="16"/>
<rect x="1095" y="688" width="1" height="13"/>
<rect x="1103" y="688" width="1" height="5"/>
<rect x="1111" y="686" width="1" height="3"/>
<rect x="1119" y="679" width="1" height="10"/>
<rect x="1127" y="677" width="1" height="12"/>
<rect x="1135" y="674" width="1" height="15"/>
<rect x="1143" y="669" width="1" height="20"/>
<rect x="1151" y="648" width="1" height="41"/>
<rect x="1159" y="634" width="1" height="55"/>
<rect x="1167" y="623" width="1" height="66"/>
<rect x="1175" y="613" width="1" height="76"/>
<rect x="1183" y="605" width="1" height="84"/>
<rect x="1191" y="597" width="1" height="92"/>
<rect x="1199" y="596" width="1" height="93"/>
<rect x="1207" y="597" width="1" height="92"/>
<rect x="1215" y="601" width="1" height="88"/>
<rect x="1223" y="605" width="1" height="84"/>
<rect x="1231" y="612" width="1" height="77"/>
<rect x="1239" y="617" width="1" height="72"/>
<rect x="1247" y="628" width="1" height="61"/>
<rect x="1255" y="634" width="1" height="55"/>
<rect x="1263" y="643" width="1" height="46"/>
<rect x="1271" y="651" width="1" height="38"/>
<rect x="1279" y="657" width="1" height="32"/>
<rect x="1287" y="658" width="1" height="31"/>
<rect x="1295" y="663" width="1" height="26"/>
<rect x="1303" y="669" width="1" height="20"/>
<rect x="1311" y="672" width="1" height="17"/>
<rect x="1319" y="671" width="1" height="18"/>
<rect x="1327" y="668" width="1" height="21"/>
<rect x="1335" y="666" width="1" height="23"/>
<rect x="1343" y="663" width="1" height="26"/>
<rect x="1351" y="668" width="1" height="21"/>
<rect x="1359" y="670" width="1" height="19"/>
<rect x="1367" y="669" width="1" height="20"/>
<rect x="1375" y="664" width="1" height="25"/>
<rect x="1383" y="662" width="1" height="27"/>
<rect x="1391" y="647" width="1" height="42"/>
<rect x="1399" y="640" width="1" height="49"/>
<rect x="1407" y="629" width="1" height="60"/>
<rect x="1415" y="623" width="1" height="66"/>
<rect x="1423" y="623" width="1" height="66"/>
<rect x="1431" y="625" width="1" height="64"/>
<rect x="1439" y="645" width="1" height="44"/>
<rect x="1447" y="660" width="1" height="29"/>
<rect x="1455" y="668" width="1" height="21"/>
<rect x="1463" y="676" width="1" height="13"/>
<rect x="1471" y="688" width="1" height="1"/>
<rect x="1479" y="688" width="1" height="13"/>
<rect x="1487" y="688" width="1" height="22"/>
<rect x="1495" y="688" width="1" height="30"/>
<rect x="1503" y="688" width="1" height="36"/>
</g>
<polyline points="0.0,746.0 8.3,743.9 16.6,742.3 31.2,742.3 47.8,739.1 60.2,734.6 70.6,728.3 78.9,723.8 89.3,714.8 99.7,705.5 108.0,696.1 118.4,684.7 126.7,673.3 135.0,662.9 143.3,653.6 151.6,644.6 160.0,638.6 168.3,634.9 176.6,630.3 182.8,628.2 191.1,627.6 207.7,627.6 218.1,628.2 224.4,629.7 232.7,628.6 245.1,626.1 257.6,624.1 268.0,619.3 278.4,615.1 288.7,611.6 301.2,609.9 313.7,609.5 324.1,611.0 332.4,612.6 340.7,616.8 351.1,622.0 352.0,622.4 360.3,627.0 370.7,629.7 381.1,632.4 393.5,637.6 406.0,641.5 418.5,646.7 428.9,650.0 441.3,656.7 453.8,663.5 466.3,668.5 476.6,674.7 484.9,680.6 495.3,688.9 505.7,697.2 516.1,703.4 526.5,709.6 536.9,715.5 545.2,720.0 553.5,721.5 572.2,721.5 584.7,722.5 593.0,723.1 605.4,721.5 617.9,721.1 626.2,716.3 634.5,709.6 644.9,699.9 653.2,689.9 663.6,676.4 671.9,665.0 680.2,653.6 688.5,644.6 696.8,637.6 703.1,634.4 704.0,634.9 710.2,632.8 720.6,632.8 731.0,634.9 741.4,639.4 751.8,644.2 760.1,648.4 768.4,654.6 780.9,660.8 793.3,669.1 805.8,676.4 816.2,683.7 824.5,688.9 832.8,693.4 841.1,698.8 849.4,703.4 859.8,707.6 868.1,710.1 878.5,710.7 888.9,710.3 899.3,709.0 909.7,707.6 920.0,707.6 932.5,708.6 942.9,710.3 953.3,713.2 963.7,715.5 974.1,717.3 994.8,717.3 1009.4,715.5 1019.8,713.8 1036.4,712.3 1053.0,711.3 1056.0,711.3 1068.5,710.7 1080.9,710.1 1097.5,707.6 1110.0,703.0 1122.5,697.2 1134.9,691.4 1143.2,687.8 1151.6,680.6 1159.9,672.2 1168.2,662.9 1176.5,653.6 1184.8,645.2 1193.1,635.9 1201.4,626.5 1209.7,618.2 1218.0,611.0 1224.3,607.4 1232.6,604.7 1240.9,603.7 1249.2,605.8 1257.5,609.9 1265.8,616.2 1274.1,622.0 1284.5,630.7 1294.9,639.4 1305.3,647.3 1315.7,654.6 1326.0,659.8 1336.4,662.9 1346.8,665.0 1357.2,666.6 1367.5,667.5 1377.9,666.4 1388.3,663.9 1398.7,659.8 1409.1,655.2 1419.5,650.0 1429.9,644.2 1438.2,640.7 1446.5,638.6 1454.8,639.0 1463.1,642.1 1471.4,647.3 1479.7,655.6 1488.0,665.0 1494.3,674.3 1500.5,682.6 1503.0,686.4" fill="none" stroke="#ff0000" stroke-width="1" shape-rendering="crispEdges" stroke-dasharray="3,3"/>
<text class="ax" x="1690" y="595">0.3006</text>
<text class="ax" x="1690" y="692">0.00</text>
<text class="ax" x="1690" y="751">-0.1908</text>
<rect x="1687" y="688" width="2" height="1" fill="#000"/>
<line x1="1202.0" y1="591.0" x2="1317.8" y2="664.0" stroke="#ff0000" stroke-width="3"/>
<polygon points="1325.0,668.5 1313.8,666.5 1318.4,659.3" fill="#ff0000"/>
<line x1="1325.0" y1="668.5" x2="1423.1" y2="628.2" stroke="#ff0000" stroke-width="3"/>
<polygon points="1431.0,625.0 1422.9,633.0 1419.7,625.0" fill="#ff0000"/>
<line x1="1431.0" y1="625.0" x2="1492.0" y2="721.8" stroke="#ff0000" stroke-width="3"/>
<polygon points="1496.5,729.0 1487.3,722.4 1494.5,717.8" fill="#ff0000"/>
<text x="3" y="769" style="font-size:9.3px;fill:#000" textLength="68" lengthAdjust="spacingAndGlyphs">RSI(14) 36.9926</text>
<line x1="0" y1="792.5" x2="1686" y2="792.5" stroke="#c0c0c0" stroke-width="1" stroke-dasharray="3,3" shape-rendering="crispEdges"/>
<line x1="0" y1="843.5" x2="1686" y2="843.5" stroke="#c0c0c0" stroke-width="1" stroke-dasharray="3,3" shape-rendering="crispEdges"/>
<line x1="0" y1="904.5" x2="1686" y2="904.5" stroke="#c0c0c0" stroke-width="1" stroke-dasharray="3,3" shape-rendering="crispEdges"/>
<text class="ax" x="1690" y="767">100</text>
<text class="ax" x="1690" y="796">80</text>
<text class="ax" x="1690" y="847">50</text>
<text class="ax" x="1690" y="908">15</text>
<text class="ax" x="1690" y="927">0</text>
<polyline points="0.0,857.7 7.5,859.3 15.6,861.4 23.5,870.3 31.6,870.3 39.5,847.3 47.6,840.6 55.5,840.2 63.6,834.4 71.5,830.7 79.6,827.1 87.5,835.0 95.6,817.8 103.5,812.6 111.6,811.1 119.4,807.4 127.5,802.2 135.4,812.2 143.5,819.2 151.4,834.0 159.5,838.1 167.4,831.9 175.5,821.3 183.4,818.4 191.5,819.9 199.4,824.4 207.5,823.4 215.4,829.2 223.5,826.1 231.4,824.4 239.5,808.4 247.4,810.1 255.5,811.5 263.4,803.2 271.5,800.5 279.4,814.7 287.5,837.5 295.4,836.5 303.5,837.5 311.4,829.2 319.5,823.6 327.4,830.2 335.5,828.6 343.4,831.3 351.5,829.6 359.5,833.4 367.6,828.6 375.5,831.3 383.6,835.0 391.5,841.3 399.6,839.2 407.5,830.2 415.6,831.9 423.5,845.2 431.6,844.4 439.5,853.5 447.6,852.5 455.5,848.5 463.6,844.4 471.4,840.2 479.5,875.3 487.4,869.3 495.5,870.8 503.4,851.0 511.5,849.4 519.4,855.2 527.5,859.3 535.4,854.1 543.5,850.0 551.4,848.3 559.5,845.4 567.4,862.4 575.5,864.5 583.4,856.6 591.5,853.5 599.4,845.4 607.5,848.5 615.4,850.4 623.5,817.2 631.4,815.3 639.5,813.2 647.4,811.1 655.5,815.3 663.4,818.8 671.5,821.9 679.4,831.3 687.5,826.1 695.4,824.4 703.5,836.5 711.5,839.2 719.6,837.1 727.5,838.1 735.6,834.4 743.5,839.0 751.6,846.4 759.5,848.3 767.6,850.0 775.5,851.4 783.6,845.2 791.5,848.9 799.6,863.5 807.5,864.5 815.6,858.7 823.4,864.5 831.5,866.2 839.4,860.4 847.5,847.3 855.4,840.6 863.5,864.5 871.4,839.2 879.5,837.1 887.4,842.7 895.5,850.0 903.4,853.5 911.5,859.3 919.4,859.3 927.5,854.5 935.4,854.5 943.5,862.4 951.4,853.1 959.5,847.5 967.4,848.5 975.5,848.3 983.4,851.4 991.5,857.2 999.4,845.4 1007.5,852.5 1015.4,854.5 1023.5,849.6 1031.4,857.7 1039.5,856.2 1047.4,845.2 1055.5,840.6 1063.5,853.5 1071.6,849.6 1079.5,848.5 1087.6,847.3 1095.5,841.7 1103.6,829.2 1111.5,827.1 1119.6,825.5 1127.5,835.4 1135.6,832.3 1143.5,824.4 1151.6,802.2 1159.5,805.3 1167.6,804.3 1175.4,800.7 1183.5,802.2 1191.4,798.0 1199.5,813.6 1207.4,816.7 1215.5,813.2 1223.4,829.6 1231.5,828.6 1239.4,831.3 1247.5,843.3 1255.4,839.6 1263.5,842.3 1271.4,845.4 1279.5,842.3 1287.4,834.8 1295.5,846.9 1303.4,843.7 1311.5,843.1 1319.4,835.4 1327.5,826.7 1335.6,826.5 1343.4,839.2 1351.6,843.3 1359.4,840.2 1367.5,835.9 1375.4,826.5 1383.5,829.6 1391.4,811.5 1399.5,808.8 1407.4,809.5 1415.5,814.7 1423.4,819.9 1431.5,825.0 1439.4,860.4 1447.5,855.6 1455.4,850.0 1463.5,854.1 1471.4,859.3 1479.5,863.5 1487.4,865.1 1495.5,866.2 1503.4,866.2" fill="none" stroke="#1e90ff" stroke-width="1" shape-rendering="crispEdges" />
<line x1="1171.0" y1="800.0" x2="1304.5" y2="848.1" stroke="#ff0000" stroke-width="3"/>
<polygon points="1312.5,851.0 1301.2,851.5 1304.1,843.4" fill="#ff0000"/>
<line x1="1312.5" y1="851.0" x2="1396.3" y2="810.7" stroke="#ff0000" stroke-width="3"/>
<polygon points="1404.0,807.0 1396.4,815.4 1392.7,807.7" fill="#ff0000"/>
<line x1="1404.0" y1="807.0" x2="1498.7" y2="862.2" stroke="#ff0000" stroke-width="3"/>
<polygon points="1506.0,866.5 1494.8,864.9 1499.1,857.5" fill="#ff0000"/>
<rect x="-1" y="930" width="1" height="4" fill="#000" shape-rendering="crispEdges"/>
<text class="ax" x="-1.5" y="942.6">23 Apr 2021</text>
<rect x="63" y="930" width="1" height="4" fill="#000" shape-rendering="crispEdges"/>
<text class="ax" x="62.5" y="942.6">26 Apr 20:00</text>
<rect x="127" y="930" width="1" height="4" fill="#000" shape-rendering="crispEdges"/>
<text class="ax" x="126.5" y="942.6">28 Apr 04:00</text>
<rect x="191" y="930" width="1" height="4" fill="#000" shape-rendering="crispEdges"/>
<text class="ax" x="190.5" y="942.6">29 Apr 12:00</text>
<rect x="255" y="930" width="1" height="4" fill="#000" shape-rendering="crispEdges"/>
<text class="ax" x="254.5" y="942.6">2 May 23:00</text>
<rect x="319" y="930" width="1" height="4" fill="#000" shape-rendering="crispEdges"/>
<text class="ax" x="318.5" y="942.6">4 May 04:00</text>
<rect x="383" y="930" width="1" height="4" fill="#000" shape-rendering="crispEdges"/>
<text class="ax" x="382.5" y="942.6">5 May 12:00</text>
<rect x="447" y="930" width="1" height="4" fill="#000" shape-rendering="crispEdges"/>
<text class="ax" x="446.5" y="942.6">6 May 20:00</text>
<rect x="511" y="930" width="1" height="4" fill="#000" shape-rendering="crispEdges"/>
<text class="ax" x="510.5" y="942.6">10 May 04:00</text>
<rect x="575" y="930" width="1" height="4" fill="#000" shape-rendering="crispEdges"/>
<text class="ax" x="574.5" y="942.6">11 May 12:00</text>
<rect x="639" y="930" width="1" height="4" fill="#000" shape-rendering="crispEdges"/>
<text class="ax" x="638.5" y="942.6">12 May 20:00</text>
<rect x="703" y="930" width="1" height="4" fill="#000" shape-rendering="crispEdges"/>
<text class="ax" x="702.5" y="942.6">14 May 04:00</text>
<rect x="767" y="930" width="1" height="4" fill="#000" shape-rendering="crispEdges"/>
<text class="ax" x="766.5" y="942.6">17 May 12:00</text>
<rect x="831" y="930" width="1" height="4" fill="#000" shape-rendering="crispEdges"/>
<text class="ax" x="830.5" y="942.6">18 May 20:00</text>
<rect x="895" y="930" width="1" height="4" fill="#000" shape-rendering="crispEdges"/>
<text class="ax" x="894.5" y="942.6">20 May 04:00</text>
<rect x="959" y="930" width="1" height="4" fill="#000" shape-rendering="crispEdges"/>
<text class="ax" x="958.5" y="942.6">21 May 12:00</text>
<rect x="1023" y="930" width="1" height="4" fill="#000" shape-rendering="crispEdges"/>
<text class="ax" x="1022.5" y="942.6">24 May 20:00</text>
<rect x="1087" y="930" width="1" height="4" fill="#000" shape-rendering="crispEdges"/>
<text class="ax" x="1086.5" y="942.6">26 May 04:00</text>
<rect x="1151" y="930" width="1" height="4" fill="#000" shape-rendering="crispEdges"/>
<text class="ax" x="1150.5" y="942.6">27 May 12:00</text>
<rect x="1215" y="930" width="1" height="4" fill="#000" shape-rendering="crispEdges"/>
<text class="ax" x="1214.5" y="942.6">30 May 23:00</text>
<rect x="1279" y="930" width="1" height="4" fill="#000" shape-rendering="crispEdges"/>
<text class="ax" x="1278.5" y="942.6">1 Jun 04:00</text>
<rect x="1343" y="930" width="1" height="4" fill="#000" shape-rendering="crispEdges"/>
<text class="ax" x="1342.5" y="942.6">2 Jun 12:00</text>
<rect x="1407" y="930" width="1" height="4" fill="#000" shape-rendering="crispEdges"/>
<text class="ax" x="1406.5" y="942.6">3 Jun 20:00</text>
<rect x="1471" y="930" width="1" height="4" fill="#000" shape-rendering="crispEdges"/>
<text class="ax" x="1470.5" y="942.6">7 Jun 04:00</text>
</svg></body></html>
